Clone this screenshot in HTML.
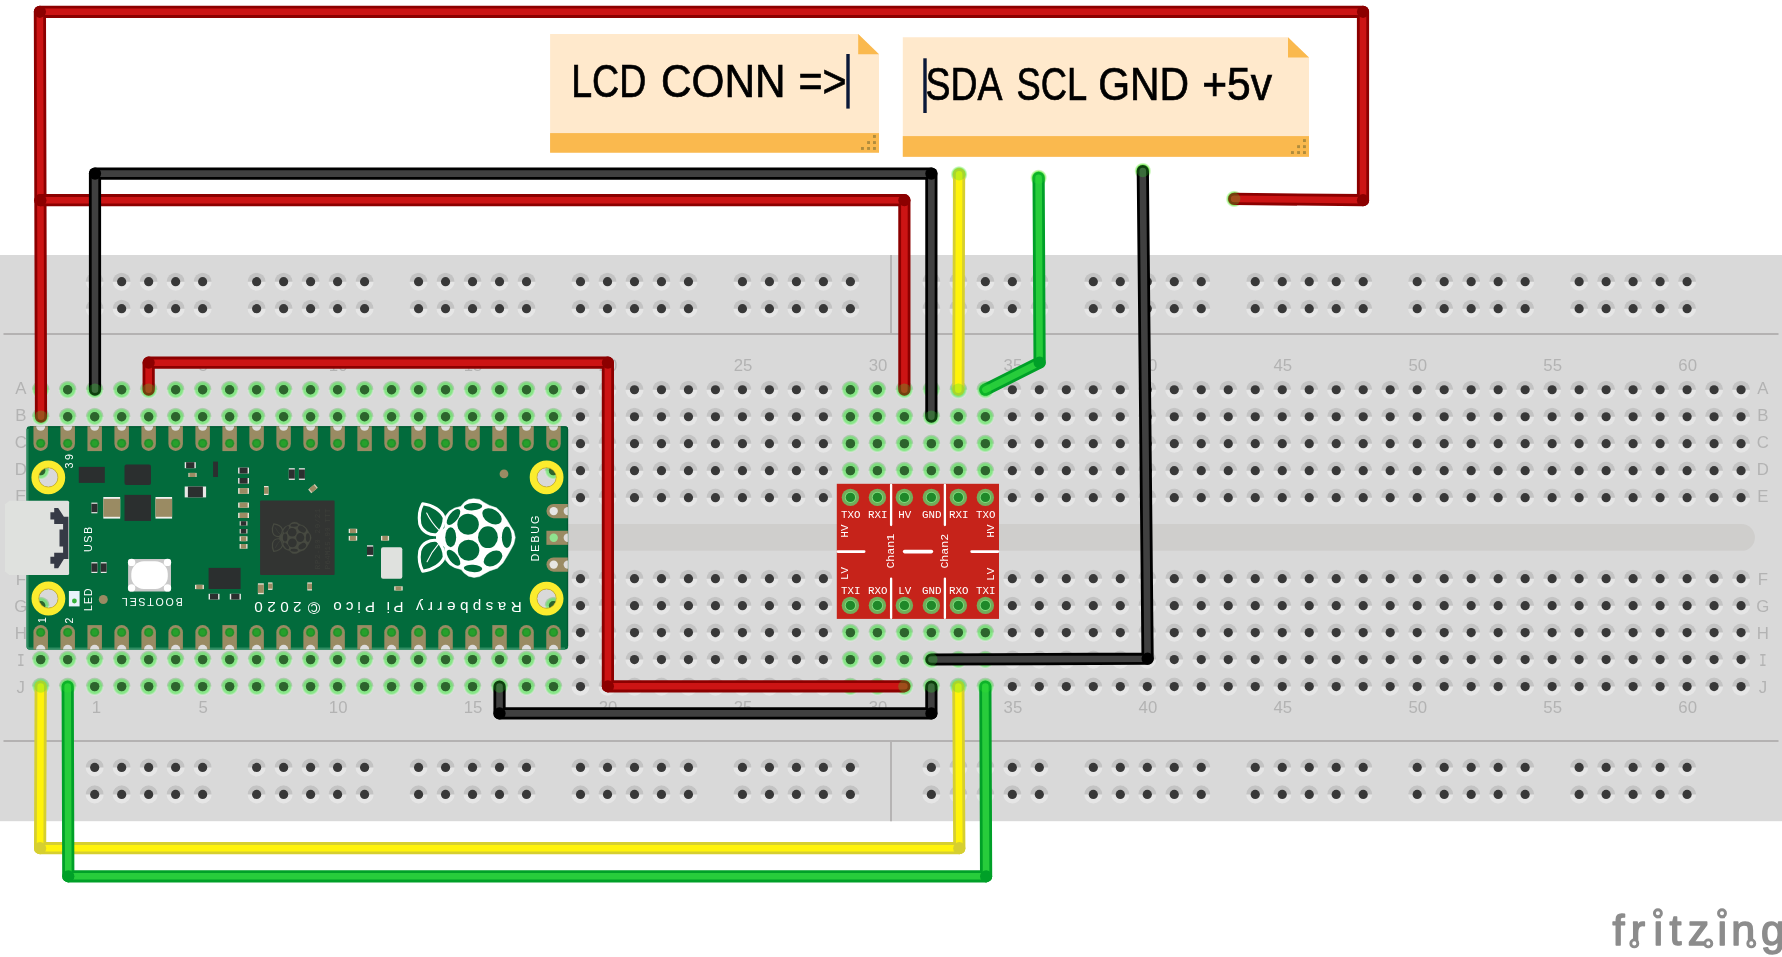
<!DOCTYPE html>
<html lang="en"><head><meta charset="utf-8"><title>Pico LCD level shifter breadboard</title>
<style>html,body{margin:0;padding:0;background:#fff;overflow:hidden}svg{display:block;will-change:transform}svg{font-family:"Liberation Sans",sans-serif}.mono{font-family:"Liberation Mono",monospace}</style></head><body>
<svg width="1782" height="957" viewBox="0 0 1782 957">
<defs>
<g id="h"><circle r="9.05" fill="#e6e6e6"/><path d="M-9.05,0A9.05,9.05 0 0 1 9.05,0Z" fill="#c3c3c3"/><circle r="4.6" fill="#383838"/></g>
<radialGradient id="gg" cx="0" cy="0" r="9.2" gradientUnits="userSpaceOnUse"><stop offset="0" stop-color="#5ee65e" stop-opacity=".68"/><stop offset=".74" stop-color="#5ee65e" stop-opacity=".7"/><stop offset=".88" stop-color="#62e662" stop-opacity=".3"/><stop offset="1" stop-color="#66e666" stop-opacity="0"/></radialGradient>
<g id="g"><use href="#h"/><circle r="9.2" fill="url(#gg)"/><circle r="4.7" fill="#2d642d"/></g>
<radialGradient id="eg"><stop offset="0" stop-color="#6fe84a" stop-opacity=".9"/><stop offset=".72" stop-color="#6fe84a" stop-opacity=".9"/><stop offset="1" stop-color="#8fee6a" stop-opacity="0"/></radialGradient>
</defs>
<g id="breadboard">
<rect x="0" y="255" width="1782" height="566.2" fill="#d9d9d9"/>
<rect x="27" y="524.1" width="1727.9" height="26.7" rx="13.35" fill="#cfcecc"/>
<g stroke="#b4b2b2" stroke-width="1.9" fill="none"><path d="M3.5,334H1778.5M3.5,741H1778.5M891,255V334M891,741V821.2"/></g>
<g fill="#b3b3b3" font-size="16.8" text-anchor="middle">
<text x="96.3" y="371">1</text>
<text x="203.2" y="371">5</text>
<text x="338.2" y="371">10</text>
<text x="473.1" y="371">15</text>
<text x="608.1" y="371">20</text>
<text x="743.0" y="371">25</text>
<text x="878.0" y="371">30</text>
<text x="1012.9" y="371">35</text>
<text x="1147.9" y="371">40</text>
<text x="1282.8" y="371">45</text>
<text x="1417.8" y="371">50</text>
<text x="1552.7" y="371">55</text>
<text x="1687.7" y="371">60</text>
<text x="96.3" y="713.4">1</text>
<text x="203.2" y="713.4">5</text>
<text x="338.2" y="713.4">10</text>
<text x="473.1" y="713.4">15</text>
<text x="608.1" y="713.4">20</text>
<text x="743.0" y="713.4">25</text>
<text x="878.0" y="713.4">30</text>
<text x="1012.9" y="713.4">35</text>
<text x="1147.9" y="713.4">40</text>
<text x="1282.8" y="713.4">45</text>
<text x="1417.8" y="713.4">50</text>
<text x="1552.7" y="713.4">55</text>
<text x="1687.7" y="713.4">60</text>
<text x="20.8" y="394.4" font-size="16.8">A</text>
<text x="1762.9" y="394.4" font-size="16.8">A</text>
<text x="20.8" y="421.4" font-size="16.8">B</text>
<text x="1762.9" y="421.4" font-size="16.8">B</text>
<text x="20.8" y="448.3" font-size="16.8">C</text>
<text x="1762.9" y="448.3" font-size="16.8">C</text>
<text x="20.8" y="475.3" font-size="16.8">D</text>
<text x="1762.9" y="475.3" font-size="16.8">D</text>
<text x="20.8" y="502.3" font-size="16.8">E</text>
<text x="1762.9" y="502.3" font-size="16.8">E</text>
<text x="20.8" y="584.6" font-size="16.8">F</text>
<text x="1762.9" y="584.6" font-size="16.8">F</text>
<text x="20.8" y="611.6" font-size="16.8">G</text>
<text x="1762.9" y="611.6" font-size="16.8">G</text>
<text x="20.8" y="638.5" font-size="16.8">H</text>
<text x="1762.9" y="638.5" font-size="16.8">H</text>
<text x="20.8" y="665.5" class="mono" font-size="18.6" textLength="7.8" lengthAdjust="spacingAndGlyphs">I</text>
<text x="1762.9" y="665.5" class="mono" font-size="18.6" textLength="7.8" lengthAdjust="spacingAndGlyphs">I</text>
<text x="20.8" y="692.5" font-size="16.8">J</text>
<text x="1762.9" y="692.5" font-size="16.8">J</text>
</g>
<g id="holes">
<use href="#g" x="40.7" y="389.75"/>
<use href="#g" x="67.69" y="389.75"/>
<use href="#g" x="94.68" y="389.75"/>
<use href="#g" x="121.67" y="389.75"/>
<use href="#g" x="148.66" y="389.75"/>
<use href="#g" x="175.65" y="389.75"/>
<use href="#g" x="202.64" y="389.75"/>
<use href="#g" x="229.63" y="389.75"/>
<use href="#g" x="256.62" y="389.75"/>
<use href="#g" x="283.61" y="389.75"/>
<use href="#g" x="310.6" y="389.75"/>
<use href="#g" x="337.59" y="389.75"/>
<use href="#g" x="364.58" y="389.75"/>
<use href="#g" x="391.57" y="389.75"/>
<use href="#g" x="418.56" y="389.75"/>
<use href="#g" x="445.55" y="389.75"/>
<use href="#g" x="472.54" y="389.75"/>
<use href="#g" x="499.53" y="389.75"/>
<use href="#g" x="526.52" y="389.75"/>
<use href="#g" x="553.51" y="389.75"/>
<use href="#h" x="580.5" y="389.75"/>
<use href="#h" x="607.49" y="389.75"/>
<use href="#h" x="634.48" y="389.75"/>
<use href="#h" x="661.47" y="389.75"/>
<use href="#h" x="688.46" y="389.75"/>
<use href="#h" x="715.45" y="389.75"/>
<use href="#h" x="742.44" y="389.75"/>
<use href="#h" x="769.43" y="389.75"/>
<use href="#h" x="796.42" y="389.75"/>
<use href="#h" x="823.41" y="389.75"/>
<use href="#g" x="850.4" y="389.75"/>
<use href="#g" x="877.39" y="389.75"/>
<use href="#g" x="904.38" y="389.75"/>
<use href="#g" x="931.37" y="389.75"/>
<use href="#g" x="958.36" y="389.75"/>
<use href="#g" x="985.35" y="389.75"/>
<use href="#h" x="1012.34" y="389.75"/>
<use href="#h" x="1039.33" y="389.75"/>
<use href="#h" x="1066.32" y="389.75"/>
<use href="#h" x="1093.31" y="389.75"/>
<use href="#h" x="1120.3" y="389.75"/>
<use href="#h" x="1147.29" y="389.75"/>
<use href="#h" x="1174.28" y="389.75"/>
<use href="#h" x="1201.27" y="389.75"/>
<use href="#h" x="1228.26" y="389.75"/>
<use href="#h" x="1255.25" y="389.75"/>
<use href="#h" x="1282.24" y="389.75"/>
<use href="#h" x="1309.23" y="389.75"/>
<use href="#h" x="1336.22" y="389.75"/>
<use href="#h" x="1363.21" y="389.75"/>
<use href="#h" x="1390.2" y="389.75"/>
<use href="#h" x="1417.19" y="389.75"/>
<use href="#h" x="1444.18" y="389.75"/>
<use href="#h" x="1471.17" y="389.75"/>
<use href="#h" x="1498.16" y="389.75"/>
<use href="#h" x="1525.15" y="389.75"/>
<use href="#h" x="1552.14" y="389.75"/>
<use href="#h" x="1579.13" y="389.75"/>
<use href="#h" x="1606.12" y="389.75"/>
<use href="#h" x="1633.11" y="389.75"/>
<use href="#h" x="1660.1" y="389.75"/>
<use href="#h" x="1687.09" y="389.75"/>
<use href="#h" x="1714.08" y="389.75"/>
<use href="#h" x="1741.07" y="389.75"/>
<use href="#g" x="40.7" y="416.75"/>
<use href="#g" x="67.69" y="416.75"/>
<use href="#g" x="94.68" y="416.75"/>
<use href="#g" x="121.67" y="416.75"/>
<use href="#g" x="148.66" y="416.75"/>
<use href="#g" x="175.65" y="416.75"/>
<use href="#g" x="202.64" y="416.75"/>
<use href="#g" x="229.63" y="416.75"/>
<use href="#g" x="256.62" y="416.75"/>
<use href="#g" x="283.61" y="416.75"/>
<use href="#g" x="310.6" y="416.75"/>
<use href="#g" x="337.59" y="416.75"/>
<use href="#g" x="364.58" y="416.75"/>
<use href="#g" x="391.57" y="416.75"/>
<use href="#g" x="418.56" y="416.75"/>
<use href="#g" x="445.55" y="416.75"/>
<use href="#g" x="472.54" y="416.75"/>
<use href="#g" x="499.53" y="416.75"/>
<use href="#g" x="526.52" y="416.75"/>
<use href="#g" x="553.51" y="416.75"/>
<use href="#h" x="580.5" y="416.75"/>
<use href="#h" x="607.49" y="416.75"/>
<use href="#h" x="634.48" y="416.75"/>
<use href="#h" x="661.47" y="416.75"/>
<use href="#h" x="688.46" y="416.75"/>
<use href="#h" x="715.45" y="416.75"/>
<use href="#h" x="742.44" y="416.75"/>
<use href="#h" x="769.43" y="416.75"/>
<use href="#h" x="796.42" y="416.75"/>
<use href="#h" x="823.41" y="416.75"/>
<use href="#g" x="850.4" y="416.75"/>
<use href="#g" x="877.39" y="416.75"/>
<use href="#g" x="904.38" y="416.75"/>
<use href="#g" x="931.37" y="416.75"/>
<use href="#g" x="958.36" y="416.75"/>
<use href="#g" x="985.35" y="416.75"/>
<use href="#h" x="1012.34" y="416.75"/>
<use href="#h" x="1039.33" y="416.75"/>
<use href="#h" x="1066.32" y="416.75"/>
<use href="#h" x="1093.31" y="416.75"/>
<use href="#h" x="1120.3" y="416.75"/>
<use href="#h" x="1147.29" y="416.75"/>
<use href="#h" x="1174.28" y="416.75"/>
<use href="#h" x="1201.27" y="416.75"/>
<use href="#h" x="1228.26" y="416.75"/>
<use href="#h" x="1255.25" y="416.75"/>
<use href="#h" x="1282.24" y="416.75"/>
<use href="#h" x="1309.23" y="416.75"/>
<use href="#h" x="1336.22" y="416.75"/>
<use href="#h" x="1363.21" y="416.75"/>
<use href="#h" x="1390.2" y="416.75"/>
<use href="#h" x="1417.19" y="416.75"/>
<use href="#h" x="1444.18" y="416.75"/>
<use href="#h" x="1471.17" y="416.75"/>
<use href="#h" x="1498.16" y="416.75"/>
<use href="#h" x="1525.15" y="416.75"/>
<use href="#h" x="1552.14" y="416.75"/>
<use href="#h" x="1579.13" y="416.75"/>
<use href="#h" x="1606.12" y="416.75"/>
<use href="#h" x="1633.11" y="416.75"/>
<use href="#h" x="1660.1" y="416.75"/>
<use href="#h" x="1687.09" y="416.75"/>
<use href="#h" x="1714.08" y="416.75"/>
<use href="#h" x="1741.07" y="416.75"/>
<use href="#g" x="40.7" y="443.65"/>
<use href="#g" x="67.69" y="443.65"/>
<use href="#g" x="94.68" y="443.65"/>
<use href="#g" x="121.67" y="443.65"/>
<use href="#g" x="148.66" y="443.65"/>
<use href="#g" x="175.65" y="443.65"/>
<use href="#g" x="202.64" y="443.65"/>
<use href="#g" x="229.63" y="443.65"/>
<use href="#g" x="256.62" y="443.65"/>
<use href="#g" x="283.61" y="443.65"/>
<use href="#g" x="310.6" y="443.65"/>
<use href="#g" x="337.59" y="443.65"/>
<use href="#g" x="364.58" y="443.65"/>
<use href="#g" x="391.57" y="443.65"/>
<use href="#g" x="418.56" y="443.65"/>
<use href="#g" x="445.55" y="443.65"/>
<use href="#g" x="472.54" y="443.65"/>
<use href="#g" x="499.53" y="443.65"/>
<use href="#g" x="526.52" y="443.65"/>
<use href="#g" x="553.51" y="443.65"/>
<use href="#h" x="580.5" y="443.65"/>
<use href="#h" x="607.49" y="443.65"/>
<use href="#h" x="634.48" y="443.65"/>
<use href="#h" x="661.47" y="443.65"/>
<use href="#h" x="688.46" y="443.65"/>
<use href="#h" x="715.45" y="443.65"/>
<use href="#h" x="742.44" y="443.65"/>
<use href="#h" x="769.43" y="443.65"/>
<use href="#h" x="796.42" y="443.65"/>
<use href="#h" x="823.41" y="443.65"/>
<use href="#g" x="850.4" y="443.65"/>
<use href="#g" x="877.39" y="443.65"/>
<use href="#g" x="904.38" y="443.65"/>
<use href="#g" x="931.37" y="443.65"/>
<use href="#g" x="958.36" y="443.65"/>
<use href="#g" x="985.35" y="443.65"/>
<use href="#h" x="1012.34" y="443.65"/>
<use href="#h" x="1039.33" y="443.65"/>
<use href="#h" x="1066.32" y="443.65"/>
<use href="#h" x="1093.31" y="443.65"/>
<use href="#h" x="1120.3" y="443.65"/>
<use href="#h" x="1147.29" y="443.65"/>
<use href="#h" x="1174.28" y="443.65"/>
<use href="#h" x="1201.27" y="443.65"/>
<use href="#h" x="1228.26" y="443.65"/>
<use href="#h" x="1255.25" y="443.65"/>
<use href="#h" x="1282.24" y="443.65"/>
<use href="#h" x="1309.23" y="443.65"/>
<use href="#h" x="1336.22" y="443.65"/>
<use href="#h" x="1363.21" y="443.65"/>
<use href="#h" x="1390.2" y="443.65"/>
<use href="#h" x="1417.19" y="443.65"/>
<use href="#h" x="1444.18" y="443.65"/>
<use href="#h" x="1471.17" y="443.65"/>
<use href="#h" x="1498.16" y="443.65"/>
<use href="#h" x="1525.15" y="443.65"/>
<use href="#h" x="1552.14" y="443.65"/>
<use href="#h" x="1579.13" y="443.65"/>
<use href="#h" x="1606.12" y="443.65"/>
<use href="#h" x="1633.11" y="443.65"/>
<use href="#h" x="1660.1" y="443.65"/>
<use href="#h" x="1687.09" y="443.65"/>
<use href="#h" x="1714.08" y="443.65"/>
<use href="#h" x="1741.07" y="443.65"/>
<use href="#g" x="40.7" y="470.65"/>
<use href="#g" x="67.69" y="470.65"/>
<use href="#g" x="94.68" y="470.65"/>
<use href="#g" x="121.67" y="470.65"/>
<use href="#g" x="148.66" y="470.65"/>
<use href="#g" x="175.65" y="470.65"/>
<use href="#g" x="202.64" y="470.65"/>
<use href="#g" x="229.63" y="470.65"/>
<use href="#g" x="256.62" y="470.65"/>
<use href="#g" x="283.61" y="470.65"/>
<use href="#g" x="310.6" y="470.65"/>
<use href="#g" x="337.59" y="470.65"/>
<use href="#g" x="364.58" y="470.65"/>
<use href="#g" x="391.57" y="470.65"/>
<use href="#g" x="418.56" y="470.65"/>
<use href="#g" x="445.55" y="470.65"/>
<use href="#g" x="472.54" y="470.65"/>
<use href="#g" x="499.53" y="470.65"/>
<use href="#g" x="526.52" y="470.65"/>
<use href="#g" x="553.51" y="470.65"/>
<use href="#h" x="580.5" y="470.65"/>
<use href="#h" x="607.49" y="470.65"/>
<use href="#h" x="634.48" y="470.65"/>
<use href="#h" x="661.47" y="470.65"/>
<use href="#h" x="688.46" y="470.65"/>
<use href="#h" x="715.45" y="470.65"/>
<use href="#h" x="742.44" y="470.65"/>
<use href="#h" x="769.43" y="470.65"/>
<use href="#h" x="796.42" y="470.65"/>
<use href="#h" x="823.41" y="470.65"/>
<use href="#g" x="850.4" y="470.65"/>
<use href="#g" x="877.39" y="470.65"/>
<use href="#g" x="904.38" y="470.65"/>
<use href="#g" x="931.37" y="470.65"/>
<use href="#g" x="958.36" y="470.65"/>
<use href="#g" x="985.35" y="470.65"/>
<use href="#h" x="1012.34" y="470.65"/>
<use href="#h" x="1039.33" y="470.65"/>
<use href="#h" x="1066.32" y="470.65"/>
<use href="#h" x="1093.31" y="470.65"/>
<use href="#h" x="1120.3" y="470.65"/>
<use href="#h" x="1147.29" y="470.65"/>
<use href="#h" x="1174.28" y="470.65"/>
<use href="#h" x="1201.27" y="470.65"/>
<use href="#h" x="1228.26" y="470.65"/>
<use href="#h" x="1255.25" y="470.65"/>
<use href="#h" x="1282.24" y="470.65"/>
<use href="#h" x="1309.23" y="470.65"/>
<use href="#h" x="1336.22" y="470.65"/>
<use href="#h" x="1363.21" y="470.65"/>
<use href="#h" x="1390.2" y="470.65"/>
<use href="#h" x="1417.19" y="470.65"/>
<use href="#h" x="1444.18" y="470.65"/>
<use href="#h" x="1471.17" y="470.65"/>
<use href="#h" x="1498.16" y="470.65"/>
<use href="#h" x="1525.15" y="470.65"/>
<use href="#h" x="1552.14" y="470.65"/>
<use href="#h" x="1579.13" y="470.65"/>
<use href="#h" x="1606.12" y="470.65"/>
<use href="#h" x="1633.11" y="470.65"/>
<use href="#h" x="1660.1" y="470.65"/>
<use href="#h" x="1687.09" y="470.65"/>
<use href="#h" x="1714.08" y="470.65"/>
<use href="#h" x="1741.07" y="470.65"/>
<use href="#g" x="40.7" y="497.65"/>
<use href="#g" x="67.69" y="497.65"/>
<use href="#g" x="94.68" y="497.65"/>
<use href="#g" x="121.67" y="497.65"/>
<use href="#g" x="148.66" y="497.65"/>
<use href="#g" x="175.65" y="497.65"/>
<use href="#g" x="202.64" y="497.65"/>
<use href="#g" x="229.63" y="497.65"/>
<use href="#g" x="256.62" y="497.65"/>
<use href="#g" x="283.61" y="497.65"/>
<use href="#g" x="310.6" y="497.65"/>
<use href="#g" x="337.59" y="497.65"/>
<use href="#g" x="364.58" y="497.65"/>
<use href="#g" x="391.57" y="497.65"/>
<use href="#g" x="418.56" y="497.65"/>
<use href="#g" x="445.55" y="497.65"/>
<use href="#g" x="472.54" y="497.65"/>
<use href="#g" x="499.53" y="497.65"/>
<use href="#g" x="526.52" y="497.65"/>
<use href="#g" x="553.51" y="497.65"/>
<use href="#h" x="580.5" y="497.65"/>
<use href="#h" x="607.49" y="497.65"/>
<use href="#h" x="634.48" y="497.65"/>
<use href="#h" x="661.47" y="497.65"/>
<use href="#h" x="688.46" y="497.65"/>
<use href="#h" x="715.45" y="497.65"/>
<use href="#h" x="742.44" y="497.65"/>
<use href="#h" x="769.43" y="497.65"/>
<use href="#h" x="796.42" y="497.65"/>
<use href="#h" x="823.41" y="497.65"/>
<use href="#g" x="850.4" y="497.65"/>
<use href="#g" x="877.39" y="497.65"/>
<use href="#g" x="904.38" y="497.65"/>
<use href="#g" x="931.37" y="497.65"/>
<use href="#g" x="958.36" y="497.65"/>
<use href="#g" x="985.35" y="497.65"/>
<use href="#h" x="1012.34" y="497.65"/>
<use href="#h" x="1039.33" y="497.65"/>
<use href="#h" x="1066.32" y="497.65"/>
<use href="#h" x="1093.31" y="497.65"/>
<use href="#h" x="1120.3" y="497.65"/>
<use href="#h" x="1147.29" y="497.65"/>
<use href="#h" x="1174.28" y="497.65"/>
<use href="#h" x="1201.27" y="497.65"/>
<use href="#h" x="1228.26" y="497.65"/>
<use href="#h" x="1255.25" y="497.65"/>
<use href="#h" x="1282.24" y="497.65"/>
<use href="#h" x="1309.23" y="497.65"/>
<use href="#h" x="1336.22" y="497.65"/>
<use href="#h" x="1363.21" y="497.65"/>
<use href="#h" x="1390.2" y="497.65"/>
<use href="#h" x="1417.19" y="497.65"/>
<use href="#h" x="1444.18" y="497.65"/>
<use href="#h" x="1471.17" y="497.65"/>
<use href="#h" x="1498.16" y="497.65"/>
<use href="#h" x="1525.15" y="497.65"/>
<use href="#h" x="1552.14" y="497.65"/>
<use href="#h" x="1579.13" y="497.65"/>
<use href="#h" x="1606.12" y="497.65"/>
<use href="#h" x="1633.11" y="497.65"/>
<use href="#h" x="1660.1" y="497.65"/>
<use href="#h" x="1687.09" y="497.65"/>
<use href="#h" x="1714.08" y="497.65"/>
<use href="#h" x="1741.07" y="497.65"/>
<use href="#g" x="40.7" y="578.7"/>
<use href="#g" x="67.69" y="578.7"/>
<use href="#g" x="94.68" y="578.7"/>
<use href="#g" x="121.67" y="578.7"/>
<use href="#g" x="148.66" y="578.7"/>
<use href="#g" x="175.65" y="578.7"/>
<use href="#g" x="202.64" y="578.7"/>
<use href="#g" x="229.63" y="578.7"/>
<use href="#g" x="256.62" y="578.7"/>
<use href="#g" x="283.61" y="578.7"/>
<use href="#g" x="310.6" y="578.7"/>
<use href="#g" x="337.59" y="578.7"/>
<use href="#g" x="364.58" y="578.7"/>
<use href="#g" x="391.57" y="578.7"/>
<use href="#g" x="418.56" y="578.7"/>
<use href="#g" x="445.55" y="578.7"/>
<use href="#g" x="472.54" y="578.7"/>
<use href="#g" x="499.53" y="578.7"/>
<use href="#g" x="526.52" y="578.7"/>
<use href="#g" x="553.51" y="578.7"/>
<use href="#h" x="580.5" y="578.7"/>
<use href="#h" x="607.49" y="578.7"/>
<use href="#h" x="634.48" y="578.7"/>
<use href="#h" x="661.47" y="578.7"/>
<use href="#h" x="688.46" y="578.7"/>
<use href="#h" x="715.45" y="578.7"/>
<use href="#h" x="742.44" y="578.7"/>
<use href="#h" x="769.43" y="578.7"/>
<use href="#h" x="796.42" y="578.7"/>
<use href="#h" x="823.41" y="578.7"/>
<use href="#g" x="850.4" y="578.7"/>
<use href="#g" x="877.39" y="578.7"/>
<use href="#g" x="904.38" y="578.7"/>
<use href="#g" x="931.37" y="578.7"/>
<use href="#g" x="958.36" y="578.7"/>
<use href="#g" x="985.35" y="578.7"/>
<use href="#h" x="1012.34" y="578.7"/>
<use href="#h" x="1039.33" y="578.7"/>
<use href="#h" x="1066.32" y="578.7"/>
<use href="#h" x="1093.31" y="578.7"/>
<use href="#h" x="1120.3" y="578.7"/>
<use href="#h" x="1147.29" y="578.7"/>
<use href="#h" x="1174.28" y="578.7"/>
<use href="#h" x="1201.27" y="578.7"/>
<use href="#h" x="1228.26" y="578.7"/>
<use href="#h" x="1255.25" y="578.7"/>
<use href="#h" x="1282.24" y="578.7"/>
<use href="#h" x="1309.23" y="578.7"/>
<use href="#h" x="1336.22" y="578.7"/>
<use href="#h" x="1363.21" y="578.7"/>
<use href="#h" x="1390.2" y="578.7"/>
<use href="#h" x="1417.19" y="578.7"/>
<use href="#h" x="1444.18" y="578.7"/>
<use href="#h" x="1471.17" y="578.7"/>
<use href="#h" x="1498.16" y="578.7"/>
<use href="#h" x="1525.15" y="578.7"/>
<use href="#h" x="1552.14" y="578.7"/>
<use href="#h" x="1579.13" y="578.7"/>
<use href="#h" x="1606.12" y="578.7"/>
<use href="#h" x="1633.11" y="578.7"/>
<use href="#h" x="1660.1" y="578.7"/>
<use href="#h" x="1687.09" y="578.7"/>
<use href="#h" x="1714.08" y="578.7"/>
<use href="#h" x="1741.07" y="578.7"/>
<use href="#g" x="40.7" y="605.7"/>
<use href="#g" x="67.69" y="605.7"/>
<use href="#g" x="94.68" y="605.7"/>
<use href="#g" x="121.67" y="605.7"/>
<use href="#g" x="148.66" y="605.7"/>
<use href="#g" x="175.65" y="605.7"/>
<use href="#g" x="202.64" y="605.7"/>
<use href="#g" x="229.63" y="605.7"/>
<use href="#g" x="256.62" y="605.7"/>
<use href="#g" x="283.61" y="605.7"/>
<use href="#g" x="310.6" y="605.7"/>
<use href="#g" x="337.59" y="605.7"/>
<use href="#g" x="364.58" y="605.7"/>
<use href="#g" x="391.57" y="605.7"/>
<use href="#g" x="418.56" y="605.7"/>
<use href="#g" x="445.55" y="605.7"/>
<use href="#g" x="472.54" y="605.7"/>
<use href="#g" x="499.53" y="605.7"/>
<use href="#g" x="526.52" y="605.7"/>
<use href="#g" x="553.51" y="605.7"/>
<use href="#h" x="580.5" y="605.7"/>
<use href="#h" x="607.49" y="605.7"/>
<use href="#h" x="634.48" y="605.7"/>
<use href="#h" x="661.47" y="605.7"/>
<use href="#h" x="688.46" y="605.7"/>
<use href="#h" x="715.45" y="605.7"/>
<use href="#h" x="742.44" y="605.7"/>
<use href="#h" x="769.43" y="605.7"/>
<use href="#h" x="796.42" y="605.7"/>
<use href="#h" x="823.41" y="605.7"/>
<use href="#g" x="850.4" y="605.7"/>
<use href="#g" x="877.39" y="605.7"/>
<use href="#g" x="904.38" y="605.7"/>
<use href="#g" x="931.37" y="605.7"/>
<use href="#g" x="958.36" y="605.7"/>
<use href="#g" x="985.35" y="605.7"/>
<use href="#h" x="1012.34" y="605.7"/>
<use href="#h" x="1039.33" y="605.7"/>
<use href="#h" x="1066.32" y="605.7"/>
<use href="#h" x="1093.31" y="605.7"/>
<use href="#h" x="1120.3" y="605.7"/>
<use href="#h" x="1147.29" y="605.7"/>
<use href="#h" x="1174.28" y="605.7"/>
<use href="#h" x="1201.27" y="605.7"/>
<use href="#h" x="1228.26" y="605.7"/>
<use href="#h" x="1255.25" y="605.7"/>
<use href="#h" x="1282.24" y="605.7"/>
<use href="#h" x="1309.23" y="605.7"/>
<use href="#h" x="1336.22" y="605.7"/>
<use href="#h" x="1363.21" y="605.7"/>
<use href="#h" x="1390.2" y="605.7"/>
<use href="#h" x="1417.19" y="605.7"/>
<use href="#h" x="1444.18" y="605.7"/>
<use href="#h" x="1471.17" y="605.7"/>
<use href="#h" x="1498.16" y="605.7"/>
<use href="#h" x="1525.15" y="605.7"/>
<use href="#h" x="1552.14" y="605.7"/>
<use href="#h" x="1579.13" y="605.7"/>
<use href="#h" x="1606.12" y="605.7"/>
<use href="#h" x="1633.11" y="605.7"/>
<use href="#h" x="1660.1" y="605.7"/>
<use href="#h" x="1687.09" y="605.7"/>
<use href="#h" x="1714.08" y="605.7"/>
<use href="#h" x="1741.07" y="605.7"/>
<use href="#g" x="40.7" y="632.6"/>
<use href="#g" x="67.69" y="632.6"/>
<use href="#g" x="94.68" y="632.6"/>
<use href="#g" x="121.67" y="632.6"/>
<use href="#g" x="148.66" y="632.6"/>
<use href="#g" x="175.65" y="632.6"/>
<use href="#g" x="202.64" y="632.6"/>
<use href="#g" x="229.63" y="632.6"/>
<use href="#g" x="256.62" y="632.6"/>
<use href="#g" x="283.61" y="632.6"/>
<use href="#g" x="310.6" y="632.6"/>
<use href="#g" x="337.59" y="632.6"/>
<use href="#g" x="364.58" y="632.6"/>
<use href="#g" x="391.57" y="632.6"/>
<use href="#g" x="418.56" y="632.6"/>
<use href="#g" x="445.55" y="632.6"/>
<use href="#g" x="472.54" y="632.6"/>
<use href="#g" x="499.53" y="632.6"/>
<use href="#g" x="526.52" y="632.6"/>
<use href="#g" x="553.51" y="632.6"/>
<use href="#h" x="580.5" y="632.6"/>
<use href="#h" x="607.49" y="632.6"/>
<use href="#h" x="634.48" y="632.6"/>
<use href="#h" x="661.47" y="632.6"/>
<use href="#h" x="688.46" y="632.6"/>
<use href="#h" x="715.45" y="632.6"/>
<use href="#h" x="742.44" y="632.6"/>
<use href="#h" x="769.43" y="632.6"/>
<use href="#h" x="796.42" y="632.6"/>
<use href="#h" x="823.41" y="632.6"/>
<use href="#g" x="850.4" y="632.6"/>
<use href="#g" x="877.39" y="632.6"/>
<use href="#g" x="904.38" y="632.6"/>
<use href="#g" x="931.37" y="632.6"/>
<use href="#g" x="958.36" y="632.6"/>
<use href="#g" x="985.35" y="632.6"/>
<use href="#h" x="1012.34" y="632.6"/>
<use href="#h" x="1039.33" y="632.6"/>
<use href="#h" x="1066.32" y="632.6"/>
<use href="#h" x="1093.31" y="632.6"/>
<use href="#h" x="1120.3" y="632.6"/>
<use href="#h" x="1147.29" y="632.6"/>
<use href="#h" x="1174.28" y="632.6"/>
<use href="#h" x="1201.27" y="632.6"/>
<use href="#h" x="1228.26" y="632.6"/>
<use href="#h" x="1255.25" y="632.6"/>
<use href="#h" x="1282.24" y="632.6"/>
<use href="#h" x="1309.23" y="632.6"/>
<use href="#h" x="1336.22" y="632.6"/>
<use href="#h" x="1363.21" y="632.6"/>
<use href="#h" x="1390.2" y="632.6"/>
<use href="#h" x="1417.19" y="632.6"/>
<use href="#h" x="1444.18" y="632.6"/>
<use href="#h" x="1471.17" y="632.6"/>
<use href="#h" x="1498.16" y="632.6"/>
<use href="#h" x="1525.15" y="632.6"/>
<use href="#h" x="1552.14" y="632.6"/>
<use href="#h" x="1579.13" y="632.6"/>
<use href="#h" x="1606.12" y="632.6"/>
<use href="#h" x="1633.11" y="632.6"/>
<use href="#h" x="1660.1" y="632.6"/>
<use href="#h" x="1687.09" y="632.6"/>
<use href="#h" x="1714.08" y="632.6"/>
<use href="#h" x="1741.07" y="632.6"/>
<use href="#g" x="40.7" y="659.6"/>
<use href="#g" x="67.69" y="659.6"/>
<use href="#g" x="94.68" y="659.6"/>
<use href="#g" x="121.67" y="659.6"/>
<use href="#g" x="148.66" y="659.6"/>
<use href="#g" x="175.65" y="659.6"/>
<use href="#g" x="202.64" y="659.6"/>
<use href="#g" x="229.63" y="659.6"/>
<use href="#g" x="256.62" y="659.6"/>
<use href="#g" x="283.61" y="659.6"/>
<use href="#g" x="310.6" y="659.6"/>
<use href="#g" x="337.59" y="659.6"/>
<use href="#g" x="364.58" y="659.6"/>
<use href="#g" x="391.57" y="659.6"/>
<use href="#g" x="418.56" y="659.6"/>
<use href="#g" x="445.55" y="659.6"/>
<use href="#g" x="472.54" y="659.6"/>
<use href="#g" x="499.53" y="659.6"/>
<use href="#g" x="526.52" y="659.6"/>
<use href="#g" x="553.51" y="659.6"/>
<use href="#h" x="580.5" y="659.6"/>
<use href="#h" x="607.49" y="659.6"/>
<use href="#h" x="634.48" y="659.6"/>
<use href="#h" x="661.47" y="659.6"/>
<use href="#h" x="688.46" y="659.6"/>
<use href="#h" x="715.45" y="659.6"/>
<use href="#h" x="742.44" y="659.6"/>
<use href="#h" x="769.43" y="659.6"/>
<use href="#h" x="796.42" y="659.6"/>
<use href="#h" x="823.41" y="659.6"/>
<use href="#g" x="850.4" y="659.6"/>
<use href="#g" x="877.39" y="659.6"/>
<use href="#g" x="904.38" y="659.6"/>
<use href="#g" x="931.37" y="659.6"/>
<use href="#g" x="958.36" y="659.6"/>
<use href="#g" x="985.35" y="659.6"/>
<use href="#h" x="1012.34" y="659.6"/>
<use href="#h" x="1039.33" y="659.6"/>
<use href="#h" x="1066.32" y="659.6"/>
<use href="#h" x="1093.31" y="659.6"/>
<use href="#h" x="1120.3" y="659.6"/>
<use href="#h" x="1147.29" y="659.6"/>
<use href="#h" x="1174.28" y="659.6"/>
<use href="#h" x="1201.27" y="659.6"/>
<use href="#h" x="1228.26" y="659.6"/>
<use href="#h" x="1255.25" y="659.6"/>
<use href="#h" x="1282.24" y="659.6"/>
<use href="#h" x="1309.23" y="659.6"/>
<use href="#h" x="1336.22" y="659.6"/>
<use href="#h" x="1363.21" y="659.6"/>
<use href="#h" x="1390.2" y="659.6"/>
<use href="#h" x="1417.19" y="659.6"/>
<use href="#h" x="1444.18" y="659.6"/>
<use href="#h" x="1471.17" y="659.6"/>
<use href="#h" x="1498.16" y="659.6"/>
<use href="#h" x="1525.15" y="659.6"/>
<use href="#h" x="1552.14" y="659.6"/>
<use href="#h" x="1579.13" y="659.6"/>
<use href="#h" x="1606.12" y="659.6"/>
<use href="#h" x="1633.11" y="659.6"/>
<use href="#h" x="1660.1" y="659.6"/>
<use href="#h" x="1687.09" y="659.6"/>
<use href="#h" x="1714.08" y="659.6"/>
<use href="#h" x="1741.07" y="659.6"/>
<use href="#g" x="40.7" y="686.6"/>
<use href="#g" x="67.69" y="686.6"/>
<use href="#g" x="94.68" y="686.6"/>
<use href="#g" x="121.67" y="686.6"/>
<use href="#g" x="148.66" y="686.6"/>
<use href="#g" x="175.65" y="686.6"/>
<use href="#g" x="202.64" y="686.6"/>
<use href="#g" x="229.63" y="686.6"/>
<use href="#g" x="256.62" y="686.6"/>
<use href="#g" x="283.61" y="686.6"/>
<use href="#g" x="310.6" y="686.6"/>
<use href="#g" x="337.59" y="686.6"/>
<use href="#g" x="364.58" y="686.6"/>
<use href="#g" x="391.57" y="686.6"/>
<use href="#g" x="418.56" y="686.6"/>
<use href="#g" x="445.55" y="686.6"/>
<use href="#g" x="472.54" y="686.6"/>
<use href="#g" x="499.53" y="686.6"/>
<use href="#g" x="526.52" y="686.6"/>
<use href="#g" x="553.51" y="686.6"/>
<use href="#h" x="580.5" y="686.6"/>
<use href="#h" x="607.49" y="686.6"/>
<use href="#h" x="634.48" y="686.6"/>
<use href="#h" x="661.47" y="686.6"/>
<use href="#h" x="688.46" y="686.6"/>
<use href="#h" x="715.45" y="686.6"/>
<use href="#h" x="742.44" y="686.6"/>
<use href="#h" x="769.43" y="686.6"/>
<use href="#h" x="796.42" y="686.6"/>
<use href="#h" x="823.41" y="686.6"/>
<use href="#g" x="850.4" y="686.6"/>
<use href="#g" x="877.39" y="686.6"/>
<use href="#g" x="904.38" y="686.6"/>
<use href="#g" x="931.37" y="686.6"/>
<use href="#g" x="958.36" y="686.6"/>
<use href="#g" x="985.35" y="686.6"/>
<use href="#h" x="1012.34" y="686.6"/>
<use href="#h" x="1039.33" y="686.6"/>
<use href="#h" x="1066.32" y="686.6"/>
<use href="#h" x="1093.31" y="686.6"/>
<use href="#h" x="1120.3" y="686.6"/>
<use href="#h" x="1147.29" y="686.6"/>
<use href="#h" x="1174.28" y="686.6"/>
<use href="#h" x="1201.27" y="686.6"/>
<use href="#h" x="1228.26" y="686.6"/>
<use href="#h" x="1255.25" y="686.6"/>
<use href="#h" x="1282.24" y="686.6"/>
<use href="#h" x="1309.23" y="686.6"/>
<use href="#h" x="1336.22" y="686.6"/>
<use href="#h" x="1363.21" y="686.6"/>
<use href="#h" x="1390.2" y="686.6"/>
<use href="#h" x="1417.19" y="686.6"/>
<use href="#h" x="1444.18" y="686.6"/>
<use href="#h" x="1471.17" y="686.6"/>
<use href="#h" x="1498.16" y="686.6"/>
<use href="#h" x="1525.15" y="686.6"/>
<use href="#h" x="1552.14" y="686.6"/>
<use href="#h" x="1579.13" y="686.6"/>
<use href="#h" x="1606.12" y="686.6"/>
<use href="#h" x="1633.11" y="686.6"/>
<use href="#h" x="1660.1" y="686.6"/>
<use href="#h" x="1687.09" y="686.6"/>
<use href="#h" x="1714.08" y="686.6"/>
<use href="#h" x="1741.07" y="686.6"/>
<use href="#h" x="94.68" y="281.7"/>
<use href="#h" x="121.67" y="281.7"/>
<use href="#h" x="148.66" y="281.7"/>
<use href="#h" x="175.65" y="281.7"/>
<use href="#h" x="202.64" y="281.7"/>
<use href="#h" x="256.62" y="281.7"/>
<use href="#h" x="283.61" y="281.7"/>
<use href="#h" x="310.6" y="281.7"/>
<use href="#h" x="337.59" y="281.7"/>
<use href="#h" x="364.58" y="281.7"/>
<use href="#h" x="418.56" y="281.7"/>
<use href="#h" x="445.55" y="281.7"/>
<use href="#h" x="472.54" y="281.7"/>
<use href="#h" x="499.53" y="281.7"/>
<use href="#h" x="526.52" y="281.7"/>
<use href="#h" x="580.5" y="281.7"/>
<use href="#h" x="607.49" y="281.7"/>
<use href="#h" x="634.48" y="281.7"/>
<use href="#h" x="661.47" y="281.7"/>
<use href="#h" x="688.46" y="281.7"/>
<use href="#h" x="742.44" y="281.7"/>
<use href="#h" x="769.43" y="281.7"/>
<use href="#h" x="796.42" y="281.7"/>
<use href="#h" x="823.41" y="281.7"/>
<use href="#h" x="850.4" y="281.7"/>
<use href="#h" x="931.37" y="281.7"/>
<use href="#h" x="958.36" y="281.7"/>
<use href="#h" x="985.35" y="281.7"/>
<use href="#h" x="1012.34" y="281.7"/>
<use href="#h" x="1039.33" y="281.7"/>
<use href="#h" x="1093.31" y="281.7"/>
<use href="#h" x="1120.3" y="281.7"/>
<use href="#h" x="1147.29" y="281.7"/>
<use href="#h" x="1174.28" y="281.7"/>
<use href="#h" x="1201.27" y="281.7"/>
<use href="#h" x="1255.25" y="281.7"/>
<use href="#h" x="1282.24" y="281.7"/>
<use href="#h" x="1309.23" y="281.7"/>
<use href="#h" x="1336.22" y="281.7"/>
<use href="#h" x="1363.21" y="281.7"/>
<use href="#h" x="1417.19" y="281.7"/>
<use href="#h" x="1444.18" y="281.7"/>
<use href="#h" x="1471.17" y="281.7"/>
<use href="#h" x="1498.16" y="281.7"/>
<use href="#h" x="1525.15" y="281.7"/>
<use href="#h" x="1579.13" y="281.7"/>
<use href="#h" x="1606.12" y="281.7"/>
<use href="#h" x="1633.11" y="281.7"/>
<use href="#h" x="1660.1" y="281.7"/>
<use href="#h" x="1687.09" y="281.7"/>
<use href="#h" x="94.68" y="308.7"/>
<use href="#h" x="121.67" y="308.7"/>
<use href="#h" x="148.66" y="308.7"/>
<use href="#h" x="175.65" y="308.7"/>
<use href="#h" x="202.64" y="308.7"/>
<use href="#h" x="256.62" y="308.7"/>
<use href="#h" x="283.61" y="308.7"/>
<use href="#h" x="310.6" y="308.7"/>
<use href="#h" x="337.59" y="308.7"/>
<use href="#h" x="364.58" y="308.7"/>
<use href="#h" x="418.56" y="308.7"/>
<use href="#h" x="445.55" y="308.7"/>
<use href="#h" x="472.54" y="308.7"/>
<use href="#h" x="499.53" y="308.7"/>
<use href="#h" x="526.52" y="308.7"/>
<use href="#h" x="580.5" y="308.7"/>
<use href="#h" x="607.49" y="308.7"/>
<use href="#h" x="634.48" y="308.7"/>
<use href="#h" x="661.47" y="308.7"/>
<use href="#h" x="688.46" y="308.7"/>
<use href="#h" x="742.44" y="308.7"/>
<use href="#h" x="769.43" y="308.7"/>
<use href="#h" x="796.42" y="308.7"/>
<use href="#h" x="823.41" y="308.7"/>
<use href="#h" x="850.4" y="308.7"/>
<use href="#h" x="931.37" y="308.7"/>
<use href="#h" x="958.36" y="308.7"/>
<use href="#h" x="985.35" y="308.7"/>
<use href="#h" x="1012.34" y="308.7"/>
<use href="#h" x="1039.33" y="308.7"/>
<use href="#h" x="1093.31" y="308.7"/>
<use href="#h" x="1120.3" y="308.7"/>
<use href="#h" x="1147.29" y="308.7"/>
<use href="#h" x="1174.28" y="308.7"/>
<use href="#h" x="1201.27" y="308.7"/>
<use href="#h" x="1255.25" y="308.7"/>
<use href="#h" x="1282.24" y="308.7"/>
<use href="#h" x="1309.23" y="308.7"/>
<use href="#h" x="1336.22" y="308.7"/>
<use href="#h" x="1363.21" y="308.7"/>
<use href="#h" x="1417.19" y="308.7"/>
<use href="#h" x="1444.18" y="308.7"/>
<use href="#h" x="1471.17" y="308.7"/>
<use href="#h" x="1498.16" y="308.7"/>
<use href="#h" x="1525.15" y="308.7"/>
<use href="#h" x="1579.13" y="308.7"/>
<use href="#h" x="1606.12" y="308.7"/>
<use href="#h" x="1633.11" y="308.7"/>
<use href="#h" x="1660.1" y="308.7"/>
<use href="#h" x="1687.09" y="308.7"/>
<use href="#h" x="94.68" y="767.45"/>
<use href="#h" x="121.67" y="767.45"/>
<use href="#h" x="148.66" y="767.45"/>
<use href="#h" x="175.65" y="767.45"/>
<use href="#h" x="202.64" y="767.45"/>
<use href="#h" x="256.62" y="767.45"/>
<use href="#h" x="283.61" y="767.45"/>
<use href="#h" x="310.6" y="767.45"/>
<use href="#h" x="337.59" y="767.45"/>
<use href="#h" x="364.58" y="767.45"/>
<use href="#h" x="418.56" y="767.45"/>
<use href="#h" x="445.55" y="767.45"/>
<use href="#h" x="472.54" y="767.45"/>
<use href="#h" x="499.53" y="767.45"/>
<use href="#h" x="526.52" y="767.45"/>
<use href="#h" x="580.5" y="767.45"/>
<use href="#h" x="607.49" y="767.45"/>
<use href="#h" x="634.48" y="767.45"/>
<use href="#h" x="661.47" y="767.45"/>
<use href="#h" x="688.46" y="767.45"/>
<use href="#h" x="742.44" y="767.45"/>
<use href="#h" x="769.43" y="767.45"/>
<use href="#h" x="796.42" y="767.45"/>
<use href="#h" x="823.41" y="767.45"/>
<use href="#h" x="850.4" y="767.45"/>
<use href="#h" x="931.37" y="767.45"/>
<use href="#h" x="958.36" y="767.45"/>
<use href="#h" x="985.35" y="767.45"/>
<use href="#h" x="1012.34" y="767.45"/>
<use href="#h" x="1039.33" y="767.45"/>
<use href="#h" x="1093.31" y="767.45"/>
<use href="#h" x="1120.3" y="767.45"/>
<use href="#h" x="1147.29" y="767.45"/>
<use href="#h" x="1174.28" y="767.45"/>
<use href="#h" x="1201.27" y="767.45"/>
<use href="#h" x="1255.25" y="767.45"/>
<use href="#h" x="1282.24" y="767.45"/>
<use href="#h" x="1309.23" y="767.45"/>
<use href="#h" x="1336.22" y="767.45"/>
<use href="#h" x="1363.21" y="767.45"/>
<use href="#h" x="1417.19" y="767.45"/>
<use href="#h" x="1444.18" y="767.45"/>
<use href="#h" x="1471.17" y="767.45"/>
<use href="#h" x="1498.16" y="767.45"/>
<use href="#h" x="1525.15" y="767.45"/>
<use href="#h" x="1579.13" y="767.45"/>
<use href="#h" x="1606.12" y="767.45"/>
<use href="#h" x="1633.11" y="767.45"/>
<use href="#h" x="1660.1" y="767.45"/>
<use href="#h" x="1687.09" y="767.45"/>
<use href="#h" x="94.68" y="794.4"/>
<use href="#h" x="121.67" y="794.4"/>
<use href="#h" x="148.66" y="794.4"/>
<use href="#h" x="175.65" y="794.4"/>
<use href="#h" x="202.64" y="794.4"/>
<use href="#h" x="256.62" y="794.4"/>
<use href="#h" x="283.61" y="794.4"/>
<use href="#h" x="310.6" y="794.4"/>
<use href="#h" x="337.59" y="794.4"/>
<use href="#h" x="364.58" y="794.4"/>
<use href="#h" x="418.56" y="794.4"/>
<use href="#h" x="445.55" y="794.4"/>
<use href="#h" x="472.54" y="794.4"/>
<use href="#h" x="499.53" y="794.4"/>
<use href="#h" x="526.52" y="794.4"/>
<use href="#h" x="580.5" y="794.4"/>
<use href="#h" x="607.49" y="794.4"/>
<use href="#h" x="634.48" y="794.4"/>
<use href="#h" x="661.47" y="794.4"/>
<use href="#h" x="688.46" y="794.4"/>
<use href="#h" x="742.44" y="794.4"/>
<use href="#h" x="769.43" y="794.4"/>
<use href="#h" x="796.42" y="794.4"/>
<use href="#h" x="823.41" y="794.4"/>
<use href="#h" x="850.4" y="794.4"/>
<use href="#h" x="931.37" y="794.4"/>
<use href="#h" x="958.36" y="794.4"/>
<use href="#h" x="985.35" y="794.4"/>
<use href="#h" x="1012.34" y="794.4"/>
<use href="#h" x="1039.33" y="794.4"/>
<use href="#h" x="1093.31" y="794.4"/>
<use href="#h" x="1120.3" y="794.4"/>
<use href="#h" x="1147.29" y="794.4"/>
<use href="#h" x="1174.28" y="794.4"/>
<use href="#h" x="1201.27" y="794.4"/>
<use href="#h" x="1255.25" y="794.4"/>
<use href="#h" x="1282.24" y="794.4"/>
<use href="#h" x="1309.23" y="794.4"/>
<use href="#h" x="1336.22" y="794.4"/>
<use href="#h" x="1363.21" y="794.4"/>
<use href="#h" x="1417.19" y="794.4"/>
<use href="#h" x="1444.18" y="794.4"/>
<use href="#h" x="1471.17" y="794.4"/>
<use href="#h" x="1498.16" y="794.4"/>
<use href="#h" x="1525.15" y="794.4"/>
<use href="#h" x="1579.13" y="794.4"/>
<use href="#h" x="1606.12" y="794.4"/>
<use href="#h" x="1633.11" y="794.4"/>
<use href="#h" x="1660.1" y="794.4"/>
<use href="#h" x="1687.09" y="794.4"/>
</g>
</g>
<g id="pico">
<path d="M29.6,426.3H565.1A3,3 0 0 1 568.1,429.3V646.5A3,3 0 0 1 565.1,649.5H29.6A3,3 0 0 1 26.6,646.5V429.3A3,3 0 0 1 29.6,426.3ZM38.699999999999996,477.4a9.6,9.6 0 1 0 19.2,0a9.6,9.6 0 1 0 -19.2,0ZM38.8,598.5a9.6,9.6 0 1 0 19.2,0a9.6,9.6 0 1 0 -19.2,0ZM537.0,477.3a9.6,9.6 0 1 0 19.2,0a9.6,9.6 0 1 0 -19.2,0ZM537.0,598.6a9.6,9.6 0 1 0 19.2,0a9.6,9.6 0 1 0 -19.2,0Z" fill="#026b3c" fill-rule="evenodd"/>
<path d="M27.5,429V646.5A2.2,2.2 0 0 0 29.7,648.6H565" fill="none" stroke="#2f8d62" stroke-width="2.1"/>
<path d="M30,426.9H565A2.5,2.5 0 0 1 567.5,429.4V646" fill="none" stroke="#005a32" stroke-width="1.2"/>
<path d="M33.45,426.3V443.65A7.25,7.25 0 0 0 47.95,443.65V426.3Z" fill="#9a8b63"/>
<path d="M33.45,649.5V632.35A7.25,7.25 0 0 1 47.95,632.35V649.5Z" fill="#9a8b63"/>
<path d="M36.2,426.3A4.5,4.5 0 0 0 45.2,426.3Z" fill="#dddddd"/><path d="M36.0,649.5A4.7,4.7 0 0 1 45.4,649.5Z" fill="#dddddd"/>
<circle cx="40.7" cy="443.3" r="4.9" fill="#6f9650"/><circle cx="40.7" cy="443.3" r="4.4" fill="#238f2a"/><circle cx="40.7" cy="443.3" r="2.9" fill="#26a02b"/>
<circle cx="40.7" cy="632.4" r="4.9" fill="#6f9650"/><circle cx="40.7" cy="632.4" r="4.4" fill="#238f2a"/><circle cx="40.7" cy="632.4" r="2.9" fill="#26a02b"/>
<path d="M60.44,426.3V443.65A7.25,7.25 0 0 0 74.94,443.65V426.3Z" fill="#9a8b63"/>
<path d="M60.44,649.5V632.35A7.25,7.25 0 0 1 74.94,632.35V649.5Z" fill="#9a8b63"/>
<path d="M63.19,426.3A4.5,4.5 0 0 0 72.19,426.3Z" fill="#dddddd"/><path d="M62.99,649.5A4.7,4.7 0 0 1 72.39,649.5Z" fill="#dddddd"/>
<circle cx="67.69" cy="443.3" r="4.9" fill="#6f9650"/><circle cx="67.69" cy="443.3" r="4.4" fill="#238f2a"/><circle cx="67.69" cy="443.3" r="2.9" fill="#26a02b"/>
<circle cx="67.69" cy="632.4" r="4.9" fill="#6f9650"/><circle cx="67.69" cy="632.4" r="4.4" fill="#238f2a"/><circle cx="67.69" cy="632.4" r="2.9" fill="#26a02b"/>
<path d="M87.43,426.3V451.1H101.93V426.3Z" fill="#9a8b63"/>
<path d="M87.43,649.5V625.1H101.93V649.5Z" fill="#9a8b63"/>
<path d="M90.18,426.3A4.5,4.5 0 0 0 99.18,426.3Z" fill="#dddddd"/><path d="M89.98,649.5A4.7,4.7 0 0 1 99.38,649.5Z" fill="#dddddd"/>
<circle cx="94.68" cy="443.3" r="4.9" fill="#6f9650"/><circle cx="94.68" cy="443.3" r="4.4" fill="#238f2a"/><circle cx="94.68" cy="443.3" r="2.9" fill="#26a02b"/>
<circle cx="94.68" cy="632.4" r="4.9" fill="#6f9650"/><circle cx="94.68" cy="632.4" r="4.4" fill="#238f2a"/><circle cx="94.68" cy="632.4" r="2.9" fill="#26a02b"/>
<path d="M114.42,426.3V443.65A7.25,7.25 0 0 0 128.92,443.65V426.3Z" fill="#9a8b63"/>
<path d="M114.42,649.5V632.35A7.25,7.25 0 0 1 128.92,632.35V649.5Z" fill="#9a8b63"/>
<path d="M117.17,426.3A4.5,4.5 0 0 0 126.17,426.3Z" fill="#dddddd"/><path d="M116.97,649.5A4.7,4.7 0 0 1 126.37,649.5Z" fill="#dddddd"/>
<circle cx="121.67" cy="443.3" r="4.9" fill="#6f9650"/><circle cx="121.67" cy="443.3" r="4.4" fill="#238f2a"/><circle cx="121.67" cy="443.3" r="2.9" fill="#26a02b"/>
<circle cx="121.67" cy="632.4" r="4.9" fill="#6f9650"/><circle cx="121.67" cy="632.4" r="4.4" fill="#238f2a"/><circle cx="121.67" cy="632.4" r="2.9" fill="#26a02b"/>
<path d="M141.41,426.3V443.65A7.25,7.25 0 0 0 155.91,443.65V426.3Z" fill="#9a8b63"/>
<path d="M141.41,649.5V632.35A7.25,7.25 0 0 1 155.91,632.35V649.5Z" fill="#9a8b63"/>
<path d="M144.16,426.3A4.5,4.5 0 0 0 153.16,426.3Z" fill="#dddddd"/><path d="M143.96,649.5A4.7,4.7 0 0 1 153.36,649.5Z" fill="#dddddd"/>
<circle cx="148.66" cy="443.3" r="4.9" fill="#6f9650"/><circle cx="148.66" cy="443.3" r="4.4" fill="#238f2a"/><circle cx="148.66" cy="443.3" r="2.9" fill="#26a02b"/>
<circle cx="148.66" cy="632.4" r="4.9" fill="#6f9650"/><circle cx="148.66" cy="632.4" r="4.4" fill="#238f2a"/><circle cx="148.66" cy="632.4" r="2.9" fill="#26a02b"/>
<path d="M168.4,426.3V443.65A7.25,7.25 0 0 0 182.9,443.65V426.3Z" fill="#9a8b63"/>
<path d="M168.4,649.5V632.35A7.25,7.25 0 0 1 182.9,632.35V649.5Z" fill="#9a8b63"/>
<path d="M171.15,426.3A4.5,4.5 0 0 0 180.15,426.3Z" fill="#dddddd"/><path d="M170.95,649.5A4.7,4.7 0 0 1 180.35,649.5Z" fill="#dddddd"/>
<circle cx="175.65" cy="443.3" r="4.9" fill="#6f9650"/><circle cx="175.65" cy="443.3" r="4.4" fill="#238f2a"/><circle cx="175.65" cy="443.3" r="2.9" fill="#26a02b"/>
<circle cx="175.65" cy="632.4" r="4.9" fill="#6f9650"/><circle cx="175.65" cy="632.4" r="4.4" fill="#238f2a"/><circle cx="175.65" cy="632.4" r="2.9" fill="#26a02b"/>
<path d="M195.39,426.3V443.65A7.25,7.25 0 0 0 209.89,443.65V426.3Z" fill="#9a8b63"/>
<path d="M195.39,649.5V632.35A7.25,7.25 0 0 1 209.89,632.35V649.5Z" fill="#9a8b63"/>
<path d="M198.14,426.3A4.5,4.5 0 0 0 207.14,426.3Z" fill="#dddddd"/><path d="M197.94,649.5A4.7,4.7 0 0 1 207.34,649.5Z" fill="#dddddd"/>
<circle cx="202.64" cy="443.3" r="4.9" fill="#6f9650"/><circle cx="202.64" cy="443.3" r="4.4" fill="#238f2a"/><circle cx="202.64" cy="443.3" r="2.9" fill="#26a02b"/>
<circle cx="202.64" cy="632.4" r="4.9" fill="#6f9650"/><circle cx="202.64" cy="632.4" r="4.4" fill="#238f2a"/><circle cx="202.64" cy="632.4" r="2.9" fill="#26a02b"/>
<path d="M222.38,426.3V451.1H236.88V426.3Z" fill="#9a8b63"/>
<path d="M222.38,649.5V625.1H236.88V649.5Z" fill="#9a8b63"/>
<path d="M225.13,426.3A4.5,4.5 0 0 0 234.13,426.3Z" fill="#dddddd"/><path d="M224.93,649.5A4.7,4.7 0 0 1 234.33,649.5Z" fill="#dddddd"/>
<circle cx="229.63" cy="443.3" r="4.9" fill="#6f9650"/><circle cx="229.63" cy="443.3" r="4.4" fill="#238f2a"/><circle cx="229.63" cy="443.3" r="2.9" fill="#26a02b"/>
<circle cx="229.63" cy="632.4" r="4.9" fill="#6f9650"/><circle cx="229.63" cy="632.4" r="4.4" fill="#238f2a"/><circle cx="229.63" cy="632.4" r="2.9" fill="#26a02b"/>
<path d="M249.37,426.3V443.65A7.25,7.25 0 0 0 263.87,443.65V426.3Z" fill="#9a8b63"/>
<path d="M249.37,649.5V632.35A7.25,7.25 0 0 1 263.87,632.35V649.5Z" fill="#9a8b63"/>
<path d="M252.12,426.3A4.5,4.5 0 0 0 261.12,426.3Z" fill="#dddddd"/><path d="M251.92,649.5A4.7,4.7 0 0 1 261.32,649.5Z" fill="#dddddd"/>
<circle cx="256.62" cy="443.3" r="4.9" fill="#6f9650"/><circle cx="256.62" cy="443.3" r="4.4" fill="#238f2a"/><circle cx="256.62" cy="443.3" r="2.9" fill="#26a02b"/>
<circle cx="256.62" cy="632.4" r="4.9" fill="#6f9650"/><circle cx="256.62" cy="632.4" r="4.4" fill="#238f2a"/><circle cx="256.62" cy="632.4" r="2.9" fill="#26a02b"/>
<path d="M276.36,426.3V443.65A7.25,7.25 0 0 0 290.86,443.65V426.3Z" fill="#9a8b63"/>
<path d="M276.36,649.5V632.35A7.25,7.25 0 0 1 290.86,632.35V649.5Z" fill="#9a8b63"/>
<path d="M279.11,426.3A4.5,4.5 0 0 0 288.11,426.3Z" fill="#dddddd"/><path d="M278.91,649.5A4.7,4.7 0 0 1 288.31,649.5Z" fill="#dddddd"/>
<circle cx="283.61" cy="443.3" r="4.9" fill="#6f9650"/><circle cx="283.61" cy="443.3" r="4.4" fill="#238f2a"/><circle cx="283.61" cy="443.3" r="2.9" fill="#26a02b"/>
<circle cx="283.61" cy="632.4" r="4.9" fill="#6f9650"/><circle cx="283.61" cy="632.4" r="4.4" fill="#238f2a"/><circle cx="283.61" cy="632.4" r="2.9" fill="#26a02b"/>
<path d="M303.35,426.3V443.65A7.25,7.25 0 0 0 317.85,443.65V426.3Z" fill="#9a8b63"/>
<path d="M303.35,649.5V632.35A7.25,7.25 0 0 1 317.85,632.35V649.5Z" fill="#9a8b63"/>
<path d="M306.1,426.3A4.5,4.5 0 0 0 315.1,426.3Z" fill="#dddddd"/><path d="M305.9,649.5A4.7,4.7 0 0 1 315.3,649.5Z" fill="#dddddd"/>
<circle cx="310.6" cy="443.3" r="4.9" fill="#6f9650"/><circle cx="310.6" cy="443.3" r="4.4" fill="#238f2a"/><circle cx="310.6" cy="443.3" r="2.9" fill="#26a02b"/>
<circle cx="310.6" cy="632.4" r="4.9" fill="#6f9650"/><circle cx="310.6" cy="632.4" r="4.4" fill="#238f2a"/><circle cx="310.6" cy="632.4" r="2.9" fill="#26a02b"/>
<path d="M330.34,426.3V443.65A7.25,7.25 0 0 0 344.84,443.65V426.3Z" fill="#9a8b63"/>
<path d="M330.34,649.5V632.35A7.25,7.25 0 0 1 344.84,632.35V649.5Z" fill="#9a8b63"/>
<path d="M333.09,426.3A4.5,4.5 0 0 0 342.09,426.3Z" fill="#dddddd"/><path d="M332.89,649.5A4.7,4.7 0 0 1 342.29,649.5Z" fill="#dddddd"/>
<circle cx="337.59" cy="443.3" r="4.9" fill="#6f9650"/><circle cx="337.59" cy="443.3" r="4.4" fill="#238f2a"/><circle cx="337.59" cy="443.3" r="2.9" fill="#26a02b"/>
<circle cx="337.59" cy="632.4" r="4.9" fill="#6f9650"/><circle cx="337.59" cy="632.4" r="4.4" fill="#238f2a"/><circle cx="337.59" cy="632.4" r="2.9" fill="#26a02b"/>
<path d="M357.33,426.3V451.1H371.83V426.3Z" fill="#9a8b63"/>
<path d="M357.33,649.5V625.1H371.83V649.5Z" fill="#9a8b63"/>
<path d="M360.08,426.3A4.5,4.5 0 0 0 369.08,426.3Z" fill="#dddddd"/><path d="M359.88,649.5A4.7,4.7 0 0 1 369.28,649.5Z" fill="#dddddd"/>
<circle cx="364.58" cy="443.3" r="4.9" fill="#6f9650"/><circle cx="364.58" cy="443.3" r="4.4" fill="#238f2a"/><circle cx="364.58" cy="443.3" r="2.9" fill="#26a02b"/>
<circle cx="364.58" cy="632.4" r="4.9" fill="#6f9650"/><circle cx="364.58" cy="632.4" r="4.4" fill="#238f2a"/><circle cx="364.58" cy="632.4" r="2.9" fill="#26a02b"/>
<path d="M384.32,426.3V443.65A7.25,7.25 0 0 0 398.82,443.65V426.3Z" fill="#9a8b63"/>
<path d="M384.32,649.5V632.35A7.25,7.25 0 0 1 398.82,632.35V649.5Z" fill="#9a8b63"/>
<path d="M387.07,426.3A4.5,4.5 0 0 0 396.07,426.3Z" fill="#dddddd"/><path d="M386.87,649.5A4.7,4.7 0 0 1 396.27,649.5Z" fill="#dddddd"/>
<circle cx="391.57" cy="443.3" r="4.9" fill="#6f9650"/><circle cx="391.57" cy="443.3" r="4.4" fill="#238f2a"/><circle cx="391.57" cy="443.3" r="2.9" fill="#26a02b"/>
<circle cx="391.57" cy="632.4" r="4.9" fill="#6f9650"/><circle cx="391.57" cy="632.4" r="4.4" fill="#238f2a"/><circle cx="391.57" cy="632.4" r="2.9" fill="#26a02b"/>
<path d="M411.31,426.3V443.65A7.25,7.25 0 0 0 425.81,443.65V426.3Z" fill="#9a8b63"/>
<path d="M411.31,649.5V632.35A7.25,7.25 0 0 1 425.81,632.35V649.5Z" fill="#9a8b63"/>
<path d="M414.06,426.3A4.5,4.5 0 0 0 423.06,426.3Z" fill="#dddddd"/><path d="M413.86,649.5A4.7,4.7 0 0 1 423.26,649.5Z" fill="#dddddd"/>
<circle cx="418.56" cy="443.3" r="4.9" fill="#6f9650"/><circle cx="418.56" cy="443.3" r="4.4" fill="#238f2a"/><circle cx="418.56" cy="443.3" r="2.9" fill="#26a02b"/>
<circle cx="418.56" cy="632.4" r="4.9" fill="#6f9650"/><circle cx="418.56" cy="632.4" r="4.4" fill="#238f2a"/><circle cx="418.56" cy="632.4" r="2.9" fill="#26a02b"/>
<path d="M438.3,426.3V443.65A7.25,7.25 0 0 0 452.8,443.65V426.3Z" fill="#9a8b63"/>
<path d="M438.3,649.5V632.35A7.25,7.25 0 0 1 452.8,632.35V649.5Z" fill="#9a8b63"/>
<path d="M441.05,426.3A4.5,4.5 0 0 0 450.05,426.3Z" fill="#dddddd"/><path d="M440.85,649.5A4.7,4.7 0 0 1 450.25,649.5Z" fill="#dddddd"/>
<circle cx="445.55" cy="443.3" r="4.9" fill="#6f9650"/><circle cx="445.55" cy="443.3" r="4.4" fill="#238f2a"/><circle cx="445.55" cy="443.3" r="2.9" fill="#26a02b"/>
<circle cx="445.55" cy="632.4" r="4.9" fill="#6f9650"/><circle cx="445.55" cy="632.4" r="4.4" fill="#238f2a"/><circle cx="445.55" cy="632.4" r="2.9" fill="#26a02b"/>
<path d="M465.29,426.3V443.65A7.25,7.25 0 0 0 479.79,443.65V426.3Z" fill="#9a8b63"/>
<path d="M465.29,649.5V632.35A7.25,7.25 0 0 1 479.79,632.35V649.5Z" fill="#9a8b63"/>
<path d="M468.04,426.3A4.5,4.5 0 0 0 477.04,426.3Z" fill="#dddddd"/><path d="M467.84,649.5A4.7,4.7 0 0 1 477.24,649.5Z" fill="#dddddd"/>
<circle cx="472.54" cy="443.3" r="4.9" fill="#6f9650"/><circle cx="472.54" cy="443.3" r="4.4" fill="#238f2a"/><circle cx="472.54" cy="443.3" r="2.9" fill="#26a02b"/>
<circle cx="472.54" cy="632.4" r="4.9" fill="#6f9650"/><circle cx="472.54" cy="632.4" r="4.4" fill="#238f2a"/><circle cx="472.54" cy="632.4" r="2.9" fill="#26a02b"/>
<path d="M492.28,426.3V451.1H506.78V426.3Z" fill="#9a8b63"/>
<path d="M492.28,649.5V625.1H506.78V649.5Z" fill="#9a8b63"/>
<path d="M495.03,426.3A4.5,4.5 0 0 0 504.03,426.3Z" fill="#dddddd"/><path d="M494.83,649.5A4.7,4.7 0 0 1 504.23,649.5Z" fill="#dddddd"/>
<circle cx="499.53" cy="443.3" r="4.9" fill="#6f9650"/><circle cx="499.53" cy="443.3" r="4.4" fill="#238f2a"/><circle cx="499.53" cy="443.3" r="2.9" fill="#26a02b"/>
<circle cx="499.53" cy="632.4" r="4.9" fill="#6f9650"/><circle cx="499.53" cy="632.4" r="4.4" fill="#238f2a"/><circle cx="499.53" cy="632.4" r="2.9" fill="#26a02b"/>
<path d="M519.27,426.3V443.65A7.25,7.25 0 0 0 533.77,443.65V426.3Z" fill="#9a8b63"/>
<path d="M519.27,649.5V632.35A7.25,7.25 0 0 1 533.77,632.35V649.5Z" fill="#9a8b63"/>
<path d="M522.02,426.3A4.5,4.5 0 0 0 531.02,426.3Z" fill="#dddddd"/><path d="M521.82,649.5A4.7,4.7 0 0 1 531.22,649.5Z" fill="#dddddd"/>
<circle cx="526.52" cy="443.3" r="4.9" fill="#6f9650"/><circle cx="526.52" cy="443.3" r="4.4" fill="#238f2a"/><circle cx="526.52" cy="443.3" r="2.9" fill="#26a02b"/>
<circle cx="526.52" cy="632.4" r="4.9" fill="#6f9650"/><circle cx="526.52" cy="632.4" r="4.4" fill="#238f2a"/><circle cx="526.52" cy="632.4" r="2.9" fill="#26a02b"/>
<path d="M546.26,426.3V443.65A7.25,7.25 0 0 0 560.76,443.65V426.3Z" fill="#9a8b63"/>
<path d="M546.26,649.5V632.35A7.25,7.25 0 0 1 560.76,632.35V649.5Z" fill="#9a8b63"/>
<path d="M549.01,426.3A4.5,4.5 0 0 0 558.01,426.3Z" fill="#dddddd"/><path d="M548.81,649.5A4.7,4.7 0 0 1 558.21,649.5Z" fill="#dddddd"/>
<circle cx="553.51" cy="443.3" r="4.9" fill="#6f9650"/><circle cx="553.51" cy="443.3" r="4.4" fill="#238f2a"/><circle cx="553.51" cy="443.3" r="2.9" fill="#26a02b"/>
<circle cx="553.51" cy="632.4" r="4.9" fill="#6f9650"/><circle cx="553.51" cy="632.4" r="4.4" fill="#238f2a"/><circle cx="553.51" cy="632.4" r="2.9" fill="#26a02b"/>
<circle cx="48.3" cy="477.4" r="13.25" fill="none" stroke="#fbec2e" stroke-width="7.3"/><circle cx="48.3" cy="477.4" r="9.7" fill="none" stroke="#d8a82a" stroke-width=".6"/>
<circle cx="48.4" cy="598.5" r="13.25" fill="none" stroke="#fbec2e" stroke-width="7.3"/><circle cx="48.4" cy="598.5" r="9.7" fill="none" stroke="#d8a82a" stroke-width=".6"/>
<circle cx="546.6" cy="477.3" r="13.25" fill="none" stroke="#fbec2e" stroke-width="7.3"/><circle cx="546.6" cy="477.3" r="9.7" fill="none" stroke="#d8a82a" stroke-width=".6"/>
<circle cx="546.6" cy="598.6" r="13.25" fill="none" stroke="#fbec2e" stroke-width="7.3"/><circle cx="546.6" cy="598.6" r="9.7" fill="none" stroke="#d8a82a" stroke-width=".6"/>
<path d="M9.5,500.8H67.6A1.5,1.5 0 0 1 69.1,502.3V573.6A1.5,1.5 0 0 1 67.6,575.1H9.5L4.9,571.6V504.3Z" fill="#dfe1de"/>
<path d="M54.2,507.9H58.2L63.9,516.8H68.4V558.9H63.9L58.2,568.3H54.2V563.8H50.4V556.7H54.2V552.7H63.1V546.5H59.5V529.6H63.1V523.9H54.2V519.4H50.4V512.3H54.2Z" fill="#363a46"/>
<rect x="78.8" y="466.9" width="26.0" height="16.0" fill="#2b2f2f"/>
<rect x="124.5" y="464.4" width="26.5" height="20.7" fill="#2b2f2f" rx="2"/>
<rect x="124.5" y="494.9" width="26.5" height="26.0" fill="#2b2f2f"/>
<rect x="103.3" y="497" width="16.9" height="21.6" fill="#f1f1ee"/>
<rect x="103.3" y="498.8" width="16.9" height="18.0" fill="#9a8b63"/>
<rect x="155.5" y="497" width="16.6" height="21.6" fill="#f1f1ee"/>
<rect x="155.5" y="498.8" width="16.6" height="18.0" fill="#9a8b63"/>
<rect x="91.4" y="502.6" width="6.0" height="10.7" fill="#e8e8e6"/>
<rect x="91.4" y="503.8" width="6.0" height="8.3" fill="#2b2f2f"/>
<rect x="91.4" y="562.2" width="6.0" height="10.8" fill="#e8e8e6"/>
<rect x="91.4" y="563.4" width="6.0" height="8.4" fill="#2b2f2f"/>
<rect x="100.8" y="562.2" width="5.8" height="10.8" fill="#e8e8e6"/>
<rect x="100.8" y="563.4" width="5.8" height="8.4" fill="#2b2f2f"/>
<rect x="184.7" y="462.2" width="11.1" height="6.0" fill="#e8e8e6"/>
<rect x="186.1" y="462.2" width="8.3" height="6.0" fill="#2b2f2f"/>
<rect x="188.3" y="472.9" width="8.4" height="4.1" fill="#cfc7ad"/>
<rect x="189.5" y="472.9" width="6.0" height="4.1" fill="#9a8b63"/>
<rect x="213.1" y="461.6" width="4.9" height="15.4" fill="#2b2f2f"/>
<rect x="184.7" y="486.5" width="21.4" height="10.9" fill="#e8e8e6"/>
<rect x="187.9" y="486.5" width="15.0" height="10.9" fill="#2b2f2f"/>
<rect x="238.1" y="467.6" width="10.9" height="5.9" fill="#e8e8e6"/>
<rect x="239.5" y="467.6" width="8.1" height="5.9" fill="#2b2f2f"/>
<rect x="238.1" y="478" width="10.9" height="5.6" fill="#e8e8e6"/>
<rect x="239.5" y="478" width="8.1" height="5.6" fill="#2b2f2f"/>
<rect x="238.1" y="488.1" width="10.9" height="5.7" fill="#e9e5d6"/>
<rect x="239.5" y="488.1" width="8.1" height="5.7" fill="#9a8b63"/>
<rect x="238.1" y="502.6" width="10.9" height="5.1" fill="#e9e5d6"/>
<rect x="239.5" y="502.6" width="8.1" height="5.1" fill="#9a8b63"/>
<rect x="238.1" y="512.8" width="10.9" height="5.2" fill="#e9e5d6"/>
<rect x="239.5" y="512.8" width="8.1" height="5.2" fill="#9a8b63"/>
<rect x="239.6" y="521.2" width="7.9" height="4.4" fill="#c9c9c0"/>
<rect x="240.9" y="521.2" width="5.3" height="4.4" fill="#2b2f2f"/>
<rect x="239.6" y="529" width="7.9" height="4.5" fill="#c9c9c0"/>
<rect x="240.9" y="529" width="5.3" height="4.5" fill="#2b2f2f"/>
<rect x="239.6" y="536.3" width="7.9" height="4.9" fill="#e9e5d6"/>
<rect x="240.9" y="536.3" width="5.3" height="4.9" fill="#9a8b63"/>
<rect x="239.6" y="544" width="7.9" height="4.7" fill="#e9e5d6"/>
<rect x="240.9" y="544" width="5.3" height="4.7" fill="#9a8b63"/>
<rect x="264" y="486" width="4.5" height="9" fill="#e9e5d6"/>
<rect x="264" y="487.2" width="4.5" height="6.6" fill="#9a8b63"/>
<rect x="288.8" y="468.2" width="6.0" height="11.7" fill="#e8e8e6"/>
<rect x="288.8" y="469.5" width="6.0" height="9.1" fill="#2b2f2f"/>
<rect x="298.9" y="468.2" width="6.0" height="11.7" fill="#e8e8e6"/>
<rect x="298.9" y="469.5" width="6.0" height="9.1" fill="#2b2f2f"/>
<g transform="translate(313,488.6) rotate(-40)"><rect x="-4.3" y="-2.4" width="8.6" height="4.8" fill="#d6cfb6"/><rect x="-3" y="-2.4" width="6" height="4.8" fill="#9a8b63"/></g>
<rect x="260.1" y="500.6" width="74.5" height="74.4" fill="#323432" rx="1"/>
<g transform="translate(268.6,518.4) scale(0.0403)"><path d="M640,88L700,95L745,125L800,155L870,180L930,235L975,300L1010,360L1045,415L1060,478L1045,545L1010,610L975,670L935,735L880,788L800,815L745,845L700,872L645,880L590,868L545,835L515,800L450,782L395,750L358,705L348,640L350,560L350,400L348,320L358,262L395,215L450,182L512,165L545,125L590,96Z" fill="#474a41" stroke="#474a41" stroke-width="5" stroke-linejoin="round"/><path d="M128,138C230,150 320,210 345,280C345,340 320,400 275,448C200,460 120,420 98,340C85,260 105,180 128,138ZM128,818C230,806 320,746 345,676C345,616 320,556 275,508C200,496 120,536 98,616C85,696 105,776 128,818Z" fill="#323432" stroke="#474a41" stroke-width="31" stroke-linejoin="round"/><path d="M262,436L365,370V586L262,520Z" fill="#474a41"/><path d="M168,232Q215,330 292,404M172,722Q215,626 285,548" fill="none" stroke="#474a41" stroke-width="11" stroke-linecap="round"/><ellipse cx="635" cy="168" rx="93" ry="37" fill="#323432" transform="rotate(-4 635 168)"/><ellipse cx="438" cy="272" rx="96" ry="44" fill="#323432" transform="rotate(-52 438 272)"/><ellipse cx="826" cy="266" rx="108" ry="70" fill="#323432" transform="rotate(32 826 266)"/><ellipse cx="585" cy="345" rx="108" ry="106" fill="#323432"/><ellipse cx="785" cy="475" rx="100" ry="110" fill="#323432"/><ellipse cx="410" cy="476" rx="55" ry="100" fill="#323432"/><ellipse cx="975" cy="476" rx="50" ry="108" fill="#323432"/><ellipse cx="590" cy="607" rx="108" ry="106" fill="#323432"/><ellipse cx="438" cy="682" rx="96" ry="44" fill="#323432" transform="rotate(52 438 682)"/><ellipse cx="836" cy="690" rx="102" ry="68" fill="#323432" transform="rotate(-33 836 690)"/><ellipse cx="635" cy="790" rx="93" ry="37" fill="#323432" transform="rotate(4 635 790)"/></g>
<g fill="#3d3f3a" font-size="7.4" class="mono"><text transform="translate(320.2,569.2) rotate(-90)" textLength="60.6" lengthAdjust="spacing">RP2-B0  20/21</text><text transform="translate(329.6,569.2) rotate(-90)" textLength="60.6" lengthAdjust="spacing">P64M15.00 TTT</text></g>
<rect x="208.6" y="567.9" width="32.0" height="21.1" fill="#2b2f2f"/>
<rect x="195" y="584.8" width="8.9" height="4.3" fill="#e9e5d6"/>
<rect x="196.3" y="584.8" width="6.3" height="4.3" fill="#9a8b63"/>
<rect x="208.6" y="593.8" width="10.9" height="5.7" fill="#e8e8e6"/>
<rect x="210.0" y="593.8" width="8.1" height="5.7" fill="#2b2f2f"/>
<rect x="229.8" y="593.8" width="11.1" height="5.7" fill="#e8e8e6"/>
<rect x="231.2" y="593.8" width="8.3" height="5.7" fill="#2b2f2f"/>
<rect x="257.9" y="583.3" width="5.9" height="10.9" fill="#e9e5d6"/>
<rect x="257.9" y="584.6" width="5.9" height="8.3" fill="#9a8b63"/>
<rect x="268.1" y="582.4" width="4.4" height="7.5" fill="#e9e5d6"/>
<rect x="268.1" y="583.6" width="4.4" height="5.1" fill="#9a8b63"/>
<rect x="307.3" y="582.4" width="4.7" height="8.1" fill="#e9e5d6"/>
<rect x="307.3" y="583.6" width="4.7" height="5.7" fill="#9a8b63"/>
<rect x="348.7" y="528.8" width="8.5" height="4.3" fill="#e9e5d6"/>
<rect x="350.0" y="528.8" width="5.9" height="4.3" fill="#9a8b63"/>
<rect x="348.7" y="535.9" width="8.5" height="4.7" fill="#e9e5d6"/>
<rect x="350.0" y="535.9" width="5.9" height="4.7" fill="#9a8b63"/>
<rect x="381" y="535.9" width="8.1" height="4.7" fill="#e9e5d6"/>
<rect x="382.3" y="535.9" width="5.5" height="4.7" fill="#9a8b63"/>
<rect x="367" y="545.3" width="6.2" height="10.9" fill="#e8e8e6"/>
<rect x="367" y="546.6" width="6.2" height="8.3" fill="#2b2f2f"/>
<rect x="381" y="547.2" width="21.3" height="31.6" fill="#dfe1de" rx="2"/>
<rect x="394.2" y="586.3" width="8.5" height="4.2" fill="#e9e5d6"/>
<rect x="395.5" y="586.3" width="5.9" height="4.2" fill="#9a8b63"/>
<circle cx="103.3" cy="599.5" r="4.5" fill="#9a8b63"/><circle cx="504" cy="473.9" r="4.4" fill="#9a8b63"/>
<rect x="68.9" y="591" width="10.7" height="15.4" fill="#e9f3fb"/><circle cx="74.4" cy="601" r="2.4" fill="#36b33a"/>
<rect x="128.1" y="558.9" width="42.9" height="32.5" rx="2" fill="#c9c9c9"/>
<circle cx="131.6" cy="562.4" r="3.7" fill="#fff"/>
<circle cx="131.6" cy="587.9" r="3.7" fill="#fff"/>
<circle cx="167.5" cy="562.4" r="3.7" fill="#fff"/>
<circle cx="167.5" cy="587.9" r="3.7" fill="#fff"/>
<rect x="131.3" y="561.3" width="36.5" height="27.7" rx="12.5" fill="#fff"/>
<path d="M567.8,504.05H553.5A7.05,7.05 0 0 0 553.5,518.15H567.8Z" fill="#9a8b63"/>
<circle cx="553.7" cy="511.1" r="4.2" fill="#e6e6e4"/>
<path d="M567.8,506.90000000000003A4.2,4.2 0 0 0 567.8,515.3000000000001Z" fill="#dddddd"/>
<rect x="546.4" y="530.75" width="21.4" height="14.1" fill="#9a8b63"/>
<circle cx="553.7" cy="537.8" r="4.2" fill="#8fe38f"/>
<path d="M567.8,533.5999999999999A4.2,4.2 0 0 0 567.8,542.0Z" fill="#dddddd"/>
<path d="M567.8,557.5500000000001H553.5A7.05,7.05 0 0 0 553.5,571.65H567.8Z" fill="#9a8b63"/>
<circle cx="553.7" cy="564.6" r="4.2" fill="#e6e6e4"/>
<path d="M567.8,560.4A4.2,4.2 0 0 0 567.8,568.8000000000001Z" fill="#dddddd"/>
<g fill="#fff">
<text transform="translate(521.7,602.1) rotate(180)" font-size="15.2" textLength="105.8" lengthAdjust="spacing">Raspberry</text>
<text transform="translate(403.5,602.1) rotate(180)" font-size="15.2" textLength="17" lengthAdjust="spacing">Pi</text>
<text transform="translate(374.9,602.1) rotate(180)" font-size="15.2" textLength="41.5" lengthAdjust="spacing">Pico</text>
<text transform="translate(320.3,601.5) rotate(180)" font-size="17" textLength="13.4" lengthAdjust="spacing">©</text>
<text transform="translate(301.6,602.1) rotate(180)" font-size="15.2" textLength="47.3" lengthAdjust="spacing">2020</text>
<text transform="translate(182.7,598.4) rotate(180)" font-size="10.6" textLength="60.8" lengthAdjust="spacing">BOOTSEL</text>
<text transform="translate(92.2,552) rotate(-90)" font-size="10.8" textLength="25.2" lengthAdjust="spacing">USB</text>
<text transform="translate(92.2,611.2) rotate(-90)" font-size="10.8" textLength="22.8" lengthAdjust="spacing">LED</text>
<text transform="translate(73.3,468.4) rotate(-90)" font-size="10.8" textLength="14.4" lengthAdjust="spacing">39</text>
<text transform="translate(45.7,623) rotate(-90)" font-size="10.4">1</text>
<text transform="translate(72.9,623.6) rotate(-90)" font-size="10.4">2</text>
<text transform="translate(538.8,561.6) rotate(-90)" font-size="10.8" textLength="46" lengthAdjust="spacing">DEBUG</text>
</g>
<g transform="translate(410,490) scale(0.0993)"><path d="M640,88L700,95L745,125L800,155L870,180L930,235L975,300L1010,360L1045,415L1060,478L1045,545L1010,610L975,670L935,735L880,788L800,815L745,845L700,872L645,880L590,868L545,835L515,800L450,782L395,750L358,705L348,640L350,560L350,400L348,320L358,262L395,215L450,182L512,165L545,125L590,96Z" fill="#fff" stroke="#fff" stroke-width="5" stroke-linejoin="round"/><path d="M128,138C230,150 320,210 345,280C345,340 320,400 275,448C200,460 120,420 98,340C85,260 105,180 128,138ZM128,818C230,806 320,746 345,676C345,616 320,556 275,508C200,496 120,536 98,616C85,696 105,776 128,818Z" fill="#026b3c" stroke="#fff" stroke-width="31" stroke-linejoin="round"/><path d="M262,436L365,370V586L262,520Z" fill="#fff"/><path d="M168,232Q215,330 292,404M172,722Q215,626 285,548" fill="none" stroke="#fff" stroke-width="11" stroke-linecap="round"/><ellipse cx="635" cy="168" rx="93" ry="37" fill="#026b3c" transform="rotate(-4 635 168)"/><ellipse cx="438" cy="272" rx="96" ry="44" fill="#026b3c" transform="rotate(-52 438 272)"/><ellipse cx="826" cy="266" rx="108" ry="70" fill="#026b3c" transform="rotate(32 826 266)"/><ellipse cx="585" cy="345" rx="108" ry="106" fill="#026b3c"/><ellipse cx="785" cy="475" rx="100" ry="110" fill="#026b3c"/><ellipse cx="410" cy="476" rx="55" ry="100" fill="#026b3c"/><ellipse cx="975" cy="476" rx="50" ry="108" fill="#026b3c"/><ellipse cx="590" cy="607" rx="108" ry="106" fill="#026b3c"/><ellipse cx="438" cy="682" rx="96" ry="44" fill="#026b3c" transform="rotate(52 438 682)"/><ellipse cx="836" cy="690" rx="102" ry="68" fill="#026b3c" transform="rotate(-33 836 690)"/><ellipse cx="635" cy="790" rx="93" ry="37" fill="#026b3c" transform="rotate(4 635 790)"/></g>
</g>
<g id="shifter">
<rect x="836.8" y="483.8" width="162.2" height="135.1" fill="#c6231a"/>
<g stroke="#fff" fill="none" stroke-linecap="round"><path d="M891.1,484.8V525M944.9,484.8V525M891.1,578.6V617.9M944.9,578.6V617.9" stroke-width="2.3"/><path d="M837.8,551.6H864.2M971.6,551.6H998" stroke-width="2.6"/><path d="M904.6,551.6H931.4" stroke-width="3.6"/></g>
<g transform="translate(850.4,497.4)"><circle r="8.7" fill="#72ad5a"/><circle r="5.6" fill="#7ddf7d"/><circle r="4.7" fill="#1f8829"/></g><g transform="translate(877.39,497.4)"><circle r="8.7" fill="#72ad5a"/><circle r="5.6" fill="#7ddf7d"/><circle r="4.7" fill="#1f8829"/></g><g transform="translate(904.38,497.4)"><circle r="8.7" fill="#72ad5a"/><circle r="5.6" fill="#7ddf7d"/><circle r="4.7" fill="#1f8829"/></g><g transform="translate(931.37,497.4)"><circle r="8.7" fill="#72ad5a"/><circle r="5.6" fill="#7ddf7d"/><circle r="4.7" fill="#1f8829"/></g><g transform="translate(958.36,497.4)"><circle r="8.7" fill="#72ad5a"/><circle r="5.6" fill="#7ddf7d"/><circle r="4.7" fill="#1f8829"/></g><g transform="translate(985.35,497.4)"><circle r="8.7" fill="#72ad5a"/><circle r="5.6" fill="#7ddf7d"/><circle r="4.7" fill="#1f8829"/></g><g transform="translate(850.4,605.4)"><circle r="8.7" fill="#72ad5a"/><circle r="5.6" fill="#7ddf7d"/><circle r="4.7" fill="#1f8829"/></g><g transform="translate(877.39,605.4)"><circle r="8.7" fill="#72ad5a"/><circle r="5.6" fill="#7ddf7d"/><circle r="4.7" fill="#1f8829"/></g><g transform="translate(904.38,605.4)"><circle r="8.7" fill="#72ad5a"/><circle r="5.6" fill="#7ddf7d"/><circle r="4.7" fill="#1f8829"/></g><g transform="translate(931.37,605.4)"><circle r="8.7" fill="#72ad5a"/><circle r="5.6" fill="#7ddf7d"/><circle r="4.7" fill="#1f8829"/></g><g transform="translate(958.36,605.4)"><circle r="8.7" fill="#72ad5a"/><circle r="5.6" fill="#7ddf7d"/><circle r="4.7" fill="#1f8829"/></g><g transform="translate(985.35,605.4)"><circle r="8.7" fill="#72ad5a"/><circle r="5.6" fill="#7ddf7d"/><circle r="4.7" fill="#1f8829"/></g>
<g fill="#fff" font-size="10.8" text-anchor="middle" class="mono"><text x="850.6999999999999" y="518.2">TXO</text><text x="850.6999999999999" y="593.6">TXI</text><text x="877.6899999999999" y="518.2">RXI</text><text x="877.6899999999999" y="593.6">RXO</text><text x="904.68" y="518.2">HV</text><text x="904.68" y="593.6">LV</text><text x="931.67" y="518.2">GND</text><text x="931.67" y="593.6">GND</text><text x="958.66" y="518.2">RXI</text><text x="958.66" y="593.6">RXO</text><text x="985.65" y="518.2">TXO</text><text x="985.65" y="593.6">TXI</text><text transform="translate(848.2,531) rotate(-90)" font-size="10.8">HV</text><text transform="translate(848.2,573.6) rotate(-90)" font-size="10.8">LV</text><text transform="translate(993.6,531) rotate(-90)" font-size="10.8">HV</text><text transform="translate(993.6,574.2) rotate(-90)" font-size="10.8">LV</text><text transform="translate(894,551.2) rotate(-90)" font-size="11.6">Chan1</text><text transform="translate(948.2,551.2) rotate(-90)" font-size="11.6">Chan2</text></g>
</g>
<g id="wires">
<circle cx="1234.2" cy="198.9" r="8.6" fill="url(#eg)"/><g fill="none" stroke-linecap="round" stroke-linejoin="round"><path d="M41.0,416.75L39.9,11.8L1363,11.8L1363,200.2L1234.2,198.9" stroke="#8c0000" stroke-width="12.2"/><path d="M41.0,416.75L39.9,11.8L1363,11.8L1363,200.2L1234.2,198.9" stroke="#cc1414" stroke-width="6.6" stroke-linejoin="miter"/></g><circle cx="39.9" cy="11.8" r="6.1" fill="#8c0000"/><circle cx="1363" cy="11.8" r="6.1" fill="#8c0000"/><circle cx="1363" cy="200.2" r="6.1" fill="#8c0000"/><circle cx="41.0" cy="416.75" r="6.2" fill="#2fe32f" fill-opacity=".28"/><circle cx="1234.2" cy="198.9" r="6.2" fill="#2fe32f" fill-opacity=".28"/>
<g fill="none" stroke-linecap="round" stroke-linejoin="round"><path d="M40.4,200.2L904.38,200.2L904.38,389.75" stroke="#8c0000" stroke-width="12.2"/><path d="M40.4,200.2L904.38,200.2L904.38,389.75" stroke="#cc1414" stroke-width="6.6" stroke-linejoin="miter"/></g><circle cx="904.38" cy="200.2" r="6.1" fill="#8c0000"/><circle cx="40.4" cy="200.2" r="6.1" fill="#8c0000"/><circle cx="904.38" cy="389.75" r="6.2" fill="#2fe32f" fill-opacity=".28"/>
<g fill="none" stroke-linecap="round" stroke-linejoin="round"><path d="M148.66,389.75L148.66,362.7L607.9,362.7L607.9,686.3L904.38,686.3" stroke="#8c0000" stroke-width="12.2"/><path d="M148.66,389.75L148.66,362.7L607.9,362.7L607.9,686.3L904.38,686.3" stroke="#cc1414" stroke-width="6.6" stroke-linejoin="miter"/></g><circle cx="148.66" cy="362.7" r="6.1" fill="#8c0000"/><circle cx="607.9" cy="362.7" r="6.1" fill="#8c0000"/><circle cx="607.9" cy="686.3" r="6.1" fill="#8c0000"/><circle cx="148.66" cy="389.75" r="6.2" fill="#2fe32f" fill-opacity=".28"/><circle cx="904.38" cy="686.3" r="6.2" fill="#2fe32f" fill-opacity=".28"/>
<g fill="none" stroke-linecap="round" stroke-linejoin="round"><path d="M95.0,389.75L95.0,173.6L931.37,173.6L931.37,416.75" stroke="#000000" stroke-width="12.2"/><path d="M95.0,389.75L95.0,173.6L931.37,173.6L931.37,416.75" stroke="#404040" stroke-width="6.6" stroke-linejoin="miter"/></g><circle cx="95.0" cy="173.6" r="6.1" fill="#000000"/><circle cx="931.37" cy="173.6" r="6.1" fill="#000000"/><circle cx="95.0" cy="389.75" r="6.2" fill="#2fe32f" fill-opacity=".28"/><circle cx="931.37" cy="416.75" r="6.2" fill="#2fe32f" fill-opacity=".28"/>
<g fill="none" stroke-linecap="round" stroke-linejoin="round"><path d="M499.53,686.6L499.53,713.4L931.37,713.4L931.37,686.6" stroke="#000000" stroke-width="12.2"/><path d="M499.53,686.6L499.53,713.4L931.37,713.4L931.37,686.6" stroke="#404040" stroke-width="6.6" stroke-linejoin="miter"/></g><circle cx="499.53" cy="713.4" r="6.1" fill="#000000"/><circle cx="931.37" cy="713.4" r="6.1" fill="#000000"/><circle cx="499.53" cy="686.6" r="6.2" fill="#2fe32f" fill-opacity=".28"/><circle cx="931.37" cy="686.6" r="6.2" fill="#2fe32f" fill-opacity=".28"/>
<circle cx="1142.8" cy="171" r="8.6" fill="url(#eg)"/><g fill="none" stroke-linecap="round" stroke-linejoin="round"><path d="M1142.8,171L1147.6,658.7L931.37,659.5" stroke="#000000" stroke-width="12.2"/><path d="M1142.8,171L1147.6,658.7L931.37,659.5" stroke="#404040" stroke-width="6.6" stroke-linejoin="miter"/></g><circle cx="1147.6" cy="658.7" r="6.1" fill="#000000"/><circle cx="1142.8" cy="171" r="6.2" fill="#2fe32f" fill-opacity=".28"/><circle cx="931.37" cy="659.5" r="6.2" fill="#2fe32f" fill-opacity=".28"/>
<g fill="none" stroke-linecap="round" stroke-linejoin="round"><path d="M40.7,686.6L40.1,848.2L959.3,848.2L958.36,686.6" stroke="#d6cf30" stroke-width="12.2"/><path d="M40.7,686.6L40.1,848.2L959.3,848.2L958.36,686.6" stroke="#fff30a" stroke-width="6.6" stroke-linejoin="miter"/></g><circle cx="40.1" cy="848.2" r="6.1" fill="#d6cf30"/><circle cx="959.3" cy="848.2" r="6.1" fill="#d6cf30"/><circle cx="40.7" cy="686.6" r="6.2" fill="#2fe32f" fill-opacity=".28"/><circle cx="958.36" cy="686.6" r="6.2" fill="#2fe32f" fill-opacity=".28"/>
<circle cx="959.1" cy="174.4" r="8.6" fill="url(#eg)"/><g fill="none" stroke-linecap="round" stroke-linejoin="round"><path d="M959.1,174.4L958.36,389.75" stroke="#d6cf30" stroke-width="12.2"/><path d="M959.1,174.4L958.36,389.75" stroke="#fff30a" stroke-width="6.6" stroke-linejoin="miter"/></g><circle cx="959.1" cy="174.4" r="6.2" fill="#2fe32f" fill-opacity=".28"/><circle cx="958.36" cy="389.75" r="6.2" fill="#2fe32f" fill-opacity=".28"/>
<g fill="none" stroke-linecap="round" stroke-linejoin="round"><path d="M67.69,686.6L68.3,876.3L986.1,876.3L985.35,686.6" stroke="#00a028" stroke-width="12.2"/><path d="M67.69,686.6L68.3,876.3L986.1,876.3L985.35,686.6" stroke="#27cc3b" stroke-width="6.6" stroke-linejoin="miter"/></g><circle cx="68.3" cy="876.3" r="6.1" fill="#00a028"/><circle cx="986.1" cy="876.3" r="6.1" fill="#00a028"/><circle cx="67.69" cy="686.6" r="6.2" fill="#2fe32f" fill-opacity=".28"/><circle cx="985.35" cy="686.6" r="6.2" fill="#2fe32f" fill-opacity=".28"/>
<circle cx="1038.6" cy="177.8" r="8.6" fill="url(#eg)"/><g fill="none" stroke-linecap="round" stroke-linejoin="round"><path d="M1038.6,177.8L1039.6,362.5L985.35,389.75" stroke="#00a028" stroke-width="12.2"/><path d="M1038.6,177.8L1039.6,362.5L985.35,389.75" stroke="#27cc3b" stroke-width="6.6" stroke-linejoin="miter"/></g><circle cx="1039.6" cy="362.5" r="6.1" fill="#00a028"/><circle cx="1038.6" cy="177.8" r="6.2" fill="#2fe32f" fill-opacity=".28"/><circle cx="985.35" cy="389.75" r="6.2" fill="#2fe32f" fill-opacity=".28"/>
</g>
<g id="notes">
<g id="note1">
<path d="M550.1,34.1H858.2L879,54.3V152.7H550.1Z" fill="#ffe9cc"/>
<path d="M858.2,34.1V54.3H879Z" fill="#fab94e"/>
<rect x="550.1" y="133.1" width="328.9" height="19.6" fill="#fab94e"/>
<g fill="#b08c3c"><rect x="873" y="147.0" width="2.9" height="2.9"/><rect x="867.1" y="147.0" width="2.9" height="2.9"/><rect x="861" y="147.0" width="2.9" height="2.9"/><rect x="873" y="141.1" width="2.9" height="2.9"/><rect x="867.1" y="141.1" width="2.9" height="2.9"/><rect x="873" y="135.0" width="2.9" height="2.9"/></g>
<text id="t1" y="96.8" font-size="45.5" fill="#000" stroke="#000" stroke-width=".7" xml:space="preserve"><tspan x="571.15" textLength="75.1" lengthAdjust="spacingAndGlyphs">LCD</tspan> <tspan x="660.95" textLength="124.6" lengthAdjust="spacingAndGlyphs">CONN</tspan> <tspan x="798.45" textLength="48.1" lengthAdjust="spacingAndGlyphs">=&gt;</tspan></text>
<rect x="846.3" y="54" width="3.4" height="54.6" fill="#0a1838"/>
</g>
<g id="note2">
<path d="M902.8,37.3H1288L1309,57.5V156.8H902.8Z" fill="#ffe9cc"/>
<path d="M1288,37.3V57.5H1309Z" fill="#fab94e"/>
<rect x="902.8" y="136.1" width="406.2" height="20.7" fill="#fab94e"/>
<g fill="#b08c3c"><rect x="1303" y="151.1" width="2.9" height="2.9"/><rect x="1297.1" y="151.1" width="2.9" height="2.9"/><rect x="1291" y="151.1" width="2.9" height="2.9"/><rect x="1303" y="145.2" width="2.9" height="2.9"/><rect x="1297.1" y="145.2" width="2.9" height="2.9"/><rect x="1303" y="139.1" width="2.9" height="2.9"/></g>
<text id="t2" y="99.5" font-size="45.5" fill="#000" stroke="#000" stroke-width=".7" xml:space="preserve"><tspan x="925.45" textLength="74.9" lengthAdjust="spacingAndGlyphs">SDA</tspan> <tspan x="1016.45" textLength="69.3" lengthAdjust="spacingAndGlyphs">SCL</tspan> <tspan x="1098.15" textLength="90.8" lengthAdjust="spacingAndGlyphs">GND</tspan> <tspan x="1202.15" textLength="69.8" lengthAdjust="spacingAndGlyphs">+5v</tspan></text>
<rect x="923.3" y="58.3" width="3.4" height="54.7" fill="#0a1838"/>
</g>
</g>

<g id="fritzing-logo" fill="#8c8c8c">
<text x="1612.6 1630.8 1653.5 1669.6 1687.8 1717.6 1731.2 1761" y="945.4" font-size="43" stroke="#8c8c8c" stroke-width="1.5" stroke-linejoin="round" stroke-linecap="round">fritzing</text>
<g stroke="#8c8c8c" stroke-width="2.9" fill="#fff"><circle cx="1657.9" cy="913.3" r="3.5"/><circle cx="1722" cy="913.3" r="3.5"/><circle cx="1634.3" cy="943.4" r="3.5"/><circle cx="1708.3" cy="943.4" r="3.5"/><circle cx="1751.3" cy="943.4" r="3.5"/></g>
</g>

</svg></body></html>
